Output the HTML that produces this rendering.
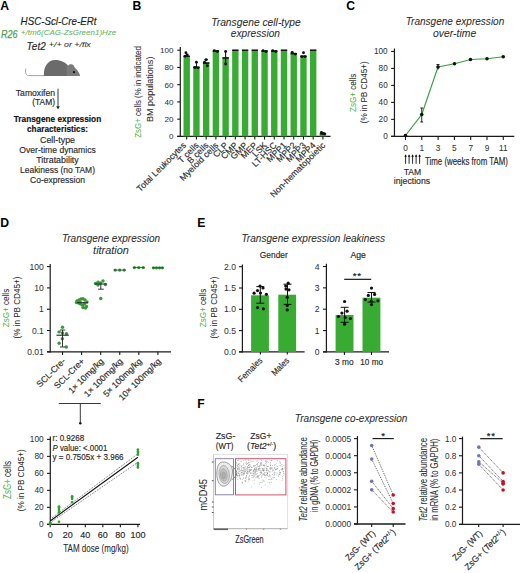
<!DOCTYPE html>
<html><head><meta charset="utf-8"><style>
html,body{margin:0;padding:0;background:#fff;}
svg{display:block;}
text{font-family:"Liberation Sans",sans-serif;}
</style></head><body>
<svg width="520" height="573" viewBox="0 0 520 573">
<rect width="520" height="573" fill="#fff"/>
<text  x="0.30" y="10.40" font-size="12.2" font-weight="bold">A</text>
<text  x="132.60" y="10.30" font-size="12.2" font-weight="bold">B</text>
<text  x="346.20" y="10.40" font-size="12.2" font-weight="bold">C</text>
<text  x="0.30" y="226.90" font-size="12.2" font-weight="bold">D</text>
<text  x="197.20" y="226.90" font-size="12.2" font-weight="bold">E</text>
<text  x="197.20" y="407.60" font-size="12.2" font-weight="bold">F</text>
<text stroke="#1e1e1e" stroke-width="0.16" x="20.60" y="25.30" font-size="10.1" fill="#1e1e1e" font-style="italic" textLength="75.80" lengthAdjust="spacingAndGlyphs">HSC-Scl-Cre-ERt</text>
<text stroke="#4f9f4f" stroke-width="0.25" x="0.90" y="37.60" font-size="11.0" fill="#4f9f4f" font-style="italic" textLength="16.60" lengthAdjust="spacingAndGlyphs">R26</text>
<text stroke="#5cb55c" stroke-width="0.05" x="20.80" y="34.70" font-size="8.0" fill="#5cb55c" font-style="italic" textLength="95.50" lengthAdjust="spacingAndGlyphs">+/tm6(CAG-ZsGreen1)Hze</text>
<text stroke="#2a2a2a" stroke-width="0.16" x="26.60" y="50.00" font-size="10.6" fill="#2a2a2a" font-style="italic" textLength="19.20" lengthAdjust="spacingAndGlyphs">Tet2</text>
<text stroke="#2a2a2a" stroke-width="0.05" x="48.80" y="46.50" font-size="7.6" fill="#2a2a2a" font-style="italic" textLength="42.00" lengthAdjust="spacingAndGlyphs">+/+ or +/flx</text>
<path d="M25.8,68.5 C25.2,72 25.6,75.5 28.5,75.6 L45,75.6" fill="none" stroke="#999" stroke-width="0.9"/>
<path d="M43.9,75.9 C43.3,66 48.5,60 55,60 C61,60 65.5,62.3 68.8,66.5 C70.2,68.5 70.6,72 70.6,75.9 Z" fill="#6b6b6b"/>
<path d="M66.8,65.6 L68.6,65.4 C69,64.6 70,64.1 71.2,64.3 C72.8,64.5 74,65.4 74.4,67 C74.8,67.6 75.2,68.1 75.6,68.6 C77.8,70.6 79.6,73.2 80.1,75.9 L66.8,75.9 Z" fill="#7a7a7a"/>
<circle cx="74.00" cy="72.20" r="1.1" fill="#111"/>
<text stroke="#2a2a2a" stroke-width="0.16" x="55.00" y="95.50" font-size="8.7" text-anchor="end" fill="#2a2a2a" textLength="39.20" lengthAdjust="spacingAndGlyphs">Tamoxifen</text>
<text stroke="#2a2a2a" stroke-width="0.16" x="55.00" y="105.00" font-size="8.7" text-anchor="end" fill="#2a2a2a" textLength="22.80" lengthAdjust="spacingAndGlyphs">(TAM)</text>
<line x1="58.00" y1="88.70" x2="58.00" y2="108.00" stroke="#222" stroke-width="0.9" />
<path d="M56.2,106.3 L58,109.6 L59.8,106.3 Z" fill="#222"/>
<text stroke="#111" stroke-width="0.16" x="57.50" y="122.00" font-size="9.0" text-anchor="middle" fill="#111" font-weight="bold" textLength="87.50" lengthAdjust="spacingAndGlyphs">Transgene expression</text>
<text stroke="#111" stroke-width="0.16" x="57.50" y="132.00" font-size="9.0" text-anchor="middle" fill="#111" font-weight="bold" textLength="61.00" lengthAdjust="spacingAndGlyphs">characteristics:</text>
<text stroke="#2a2a2a" stroke-width="0.16" x="57.50" y="142.50" font-size="8.8" text-anchor="middle" fill="#2a2a2a" textLength="35.00" lengthAdjust="spacingAndGlyphs">Cell-type</text>
<text stroke="#2a2a2a" stroke-width="0.16" x="57.50" y="152.50" font-size="8.8" text-anchor="middle" fill="#2a2a2a" textLength="76.50" lengthAdjust="spacingAndGlyphs">Over-time dynamics</text>
<text stroke="#2a2a2a" stroke-width="0.16" x="57.50" y="162.50" font-size="8.8" text-anchor="middle" fill="#2a2a2a" textLength="42.50" lengthAdjust="spacingAndGlyphs">Titratability</text>
<text stroke="#2a2a2a" stroke-width="0.16" x="57.50" y="173.00" font-size="8.8" text-anchor="middle" fill="#2a2a2a" textLength="75.00" lengthAdjust="spacingAndGlyphs">Leakiness (no TAM)</text>
<text stroke="#2a2a2a" stroke-width="0.16" x="57.50" y="183.00" font-size="8.8" text-anchor="middle" fill="#2a2a2a" textLength="55.00" lengthAdjust="spacingAndGlyphs">Co-expression</text>
<text stroke="#2e2e2e" stroke-width="0.06" x="256.00" y="25.80" font-size="10" text-anchor="middle" fill="#2e2e2e" font-style="italic" textLength="89.60" lengthAdjust="spacingAndGlyphs">Transgene cell-type</text>
<text stroke="#2e2e2e" stroke-width="0.06" x="255.40" y="37.20" font-size="10" text-anchor="middle" fill="#2e2e2e" font-style="italic" textLength="49.20" lengthAdjust="spacingAndGlyphs">expression</text>
<line x1="180.30" y1="47.10" x2="180.30" y2="137.00" stroke="#1a1a1a" stroke-width="1.2" />
<line x1="177.20" y1="136.40" x2="330.50" y2="136.40" stroke="#1a1a1a" stroke-width="1.3" />
<line x1="177.20" y1="136.40" x2="180.30" y2="136.40" stroke="#1a1a1a" stroke-width="1.1" />
<text stroke="#333" stroke-width="0.04" x="173.60" y="139.24" font-size="8.1" text-anchor="end" fill="#333">0</text>
<line x1="177.20" y1="119.16" x2="180.30" y2="119.16" stroke="#1a1a1a" stroke-width="1.1" />
<text stroke="#333" stroke-width="0.04" x="173.60" y="122.00" font-size="8.1" text-anchor="end" fill="#333">20</text>
<line x1="177.20" y1="101.92" x2="180.30" y2="101.92" stroke="#1a1a1a" stroke-width="1.1" />
<text stroke="#333" stroke-width="0.04" x="173.60" y="104.76" font-size="8.1" text-anchor="end" fill="#333">40</text>
<line x1="177.20" y1="84.68" x2="180.30" y2="84.68" stroke="#1a1a1a" stroke-width="1.1" />
<text stroke="#333" stroke-width="0.04" x="173.60" y="87.52" font-size="8.1" text-anchor="end" fill="#333">60</text>
<line x1="177.20" y1="67.44" x2="180.30" y2="67.44" stroke="#1a1a1a" stroke-width="1.1" />
<text stroke="#333" stroke-width="0.04" x="173.60" y="70.28" font-size="8.1" text-anchor="end" fill="#333">80</text>
<line x1="177.20" y1="50.20" x2="180.30" y2="50.20" stroke="#1a1a1a" stroke-width="1.1" />
<text stroke="#333" stroke-width="0.04" x="173.60" y="53.04" font-size="8.1" text-anchor="end" fill="#333">100</text>
<rect x="183.50" y="56.23" width="6.40" height="80.17" fill="#38ab32" />
<line x1="186.70" y1="136.40" x2="186.70" y2="139.60" stroke="#1a1a1a" stroke-width="1.1" />
<text stroke="#2a2a2a" stroke-width="0.16" x="186.70" y="145.80" font-size="8.8" text-anchor="end" fill="#2a2a2a" transform="rotate(-45 186.70 145.80)">Total Leukocytes</text>
<rect x="193.23" y="66.58" width="6.40" height="69.82" fill="#38ab32" />
<line x1="196.43" y1="136.40" x2="196.43" y2="139.60" stroke="#1a1a1a" stroke-width="1.1" />
<text stroke="#2a2a2a" stroke-width="0.16" x="199.43" y="145.80" font-size="8.8" text-anchor="end" fill="#2a2a2a" transform="rotate(-45 199.43 145.80)">T cells</text>
<rect x="202.96" y="62.27" width="6.40" height="74.13" fill="#38ab32" />
<line x1="206.16" y1="136.40" x2="206.16" y2="139.60" stroke="#1a1a1a" stroke-width="1.1" />
<text stroke="#2a2a2a" stroke-width="0.16" x="209.16" y="145.80" font-size="8.8" text-anchor="end" fill="#2a2a2a" transform="rotate(-45 209.16 145.80)">B cells</text>
<rect x="212.69" y="51.06" width="6.40" height="85.34" fill="#38ab32" />
<line x1="215.89" y1="136.40" x2="215.89" y2="139.60" stroke="#1a1a1a" stroke-width="1.1" />
<text stroke="#2a2a2a" stroke-width="0.16" x="218.89" y="145.80" font-size="8.8" text-anchor="end" fill="#2a2a2a" transform="rotate(-45 218.89 145.80)">Myeloid cells</text>
<rect x="222.42" y="57.10" width="6.40" height="79.30" fill="#38ab32" />
<line x1="225.62" y1="136.40" x2="225.62" y2="139.60" stroke="#1a1a1a" stroke-width="1.1" />
<text stroke="#2a2a2a" stroke-width="0.16" x="228.62" y="145.80" font-size="8.8" text-anchor="end" fill="#2a2a2a" transform="rotate(-45 228.62 145.80)">CLP</text>
<rect x="232.15" y="50.20" width="6.40" height="86.20" fill="#38ab32" />
<line x1="235.35" y1="136.40" x2="235.35" y2="139.60" stroke="#1a1a1a" stroke-width="1.1" />
<text stroke="#2a2a2a" stroke-width="0.16" x="238.35" y="145.80" font-size="8.8" text-anchor="end" fill="#2a2a2a" transform="rotate(-45 238.35 145.80)">CMP</text>
<rect x="241.88" y="50.20" width="6.40" height="86.20" fill="#38ab32" />
<line x1="245.08" y1="136.40" x2="245.08" y2="139.60" stroke="#1a1a1a" stroke-width="1.1" />
<text stroke="#2a2a2a" stroke-width="0.16" x="248.08" y="145.80" font-size="8.8" text-anchor="end" fill="#2a2a2a" transform="rotate(-45 248.08 145.80)">GMP</text>
<rect x="251.61" y="50.20" width="6.40" height="86.20" fill="#38ab32" />
<line x1="254.81" y1="136.40" x2="254.81" y2="139.60" stroke="#1a1a1a" stroke-width="1.1" />
<text stroke="#2a2a2a" stroke-width="0.16" x="257.81" y="145.80" font-size="8.8" text-anchor="end" fill="#2a2a2a" transform="rotate(-45 257.81 145.80)">MEP</text>
<rect x="261.34" y="51.06" width="6.40" height="85.34" fill="#38ab32" />
<line x1="264.54" y1="136.40" x2="264.54" y2="139.60" stroke="#1a1a1a" stroke-width="1.1" />
<text stroke="#2a2a2a" stroke-width="0.16" x="267.54" y="145.80" font-size="8.8" text-anchor="end" fill="#2a2a2a" transform="rotate(-45 267.54 145.80)">LSK</text>
<rect x="271.07" y="51.06" width="6.40" height="85.34" fill="#38ab32" />
<line x1="274.27" y1="136.40" x2="274.27" y2="139.60" stroke="#1a1a1a" stroke-width="1.1" />
<text stroke="#2a2a2a" stroke-width="0.16" x="277.27" y="145.80" font-size="8.8" text-anchor="end" fill="#2a2a2a" transform="rotate(-45 277.27 145.80)">LT-HSC</text>
<rect x="280.80" y="50.20" width="6.40" height="86.20" fill="#38ab32" />
<line x1="284.00" y1="136.40" x2="284.00" y2="139.60" stroke="#1a1a1a" stroke-width="1.1" />
<text stroke="#2a2a2a" stroke-width="0.16" x="287.00" y="145.80" font-size="8.8" text-anchor="end" fill="#2a2a2a" transform="rotate(-45 287.00 145.80)">MPP1</text>
<rect x="290.53" y="53.65" width="6.40" height="82.75" fill="#38ab32" />
<line x1="293.73" y1="136.40" x2="293.73" y2="139.60" stroke="#1a1a1a" stroke-width="1.1" />
<text stroke="#2a2a2a" stroke-width="0.16" x="296.73" y="145.80" font-size="8.8" text-anchor="end" fill="#2a2a2a" transform="rotate(-45 296.73 145.80)">MPP2</text>
<rect x="300.26" y="56.23" width="6.40" height="80.17" fill="#38ab32" />
<line x1="303.46" y1="136.40" x2="303.46" y2="139.60" stroke="#1a1a1a" stroke-width="1.1" />
<text stroke="#2a2a2a" stroke-width="0.16" x="306.46" y="145.80" font-size="8.8" text-anchor="end" fill="#2a2a2a" transform="rotate(-45 306.46 145.80)">MPP3</text>
<rect x="309.99" y="50.20" width="6.40" height="86.20" fill="#38ab32" />
<line x1="313.19" y1="136.40" x2="313.19" y2="139.60" stroke="#1a1a1a" stroke-width="1.1" />
<text stroke="#2a2a2a" stroke-width="0.16" x="316.19" y="145.80" font-size="8.8" text-anchor="end" fill="#2a2a2a" transform="rotate(-45 316.19 145.80)">MPP4</text>
<rect x="319.72" y="133.81" width="6.40" height="2.59" fill="#38ab32" />
<line x1="322.92" y1="136.40" x2="322.92" y2="139.60" stroke="#1a1a1a" stroke-width="1.1" />
<text stroke="#2a2a2a" stroke-width="0.16" x="325.92" y="145.80" font-size="8.8" text-anchor="end" fill="#2a2a2a" transform="rotate(-45 325.92 145.80)">Non-hematopoietic</text>
<rect x="183.50" y="55.48" width="6.40" height="1.50" fill="#111" />
<rect x="193.23" y="66.69" width="6.40" height="1.50" fill="#111" />
<rect x="202.96" y="62.38" width="6.40" height="1.50" fill="#111" />
<rect x="212.69" y="50.31" width="6.40" height="1.50" fill="#111" />
<rect x="222.42" y="57.21" width="6.40" height="1.50" fill="#111" />
<rect x="232.15" y="49.45" width="6.40" height="1.50" fill="#111" />
<rect x="241.88" y="49.45" width="6.40" height="1.50" fill="#111" />
<rect x="251.61" y="49.45" width="6.40" height="1.50" fill="#111" />
<rect x="261.34" y="50.31" width="6.40" height="1.50" fill="#111" />
<rect x="271.07" y="50.31" width="6.40" height="1.50" fill="#111" />
<rect x="280.80" y="49.45" width="6.40" height="1.50" fill="#111" />
<rect x="290.53" y="52.90" width="6.40" height="1.50" fill="#111" />
<rect x="300.26" y="55.48" width="6.40" height="1.50" fill="#111" />
<rect x="309.99" y="49.45" width="6.40" height="1.50" fill="#111" />
<rect x="319.72" y="133.06" width="6.40" height="1.50" fill="#111" />
<circle cx="185.90" cy="52.79" r="1.45" fill="#111"/>
<circle cx="187.30" cy="54.94" r="1.45" fill="#111"/>
<circle cx="185.20" cy="56.23" r="1.45" fill="#111"/>
<circle cx="196.43" cy="62.27" r="1.45" fill="#111"/>
<circle cx="194.93" cy="67.44" r="1.45" fill="#111"/>
<circle cx="197.93" cy="67.87" r="1.45" fill="#111"/>
<circle cx="206.16" cy="59.68" r="1.45" fill="#111"/>
<circle cx="204.56" cy="62.27" r="1.45" fill="#111"/>
<circle cx="207.36" cy="65.72" r="1.45" fill="#111"/>
<circle cx="214.39" cy="50.63" r="1.45" fill="#111"/>
<circle cx="217.39" cy="51.49" r="1.45" fill="#111"/>
<circle cx="225.62" cy="51.49" r="1.45" fill="#111"/>
<circle cx="225.62" cy="63.99" r="1.45" fill="#111"/>
<circle cx="263.04" cy="50.63" r="1.45" fill="#111"/>
<circle cx="266.04" cy="51.49" r="1.45" fill="#111"/>
<circle cx="272.77" cy="50.63" r="1.45" fill="#111"/>
<circle cx="275.77" cy="51.49" r="1.45" fill="#111"/>
<circle cx="292.23" cy="52.36" r="1.45" fill="#111"/>
<circle cx="295.23" cy="54.08" r="1.45" fill="#111"/>
<circle cx="303.46" cy="52.79" r="1.45" fill="#111"/>
<circle cx="301.96" cy="56.67" r="1.45" fill="#111"/>
<circle cx="304.96" cy="56.67" r="1.45" fill="#111"/>
<circle cx="321.42" cy="132.52" r="1.45" fill="#111"/>
<circle cx="324.42" cy="133.81" r="1.45" fill="#111"/>
<circle cx="322.92" cy="133.38" r="1.45" fill="#111"/>
<line x1="225.62" y1="51.49" x2="225.62" y2="63.99" stroke="#111" stroke-width="1.1" />
<line x1="204.36" y1="59.68" x2="207.96" y2="59.68" stroke="#111" stroke-width="1.0" />
<line x1="196.43" y1="62.27" x2="196.43" y2="67.44" stroke="#111" stroke-width="1.0" />
<text stroke="#2a2a2a" stroke-width="0.05" x="141.40" y="91.90" font-size="9.6" text-anchor="middle" fill="#2a2a2a" textLength="91.60" lengthAdjust="spacingAndGlyphs" transform="rotate(-90 141.40 91.90)"><tspan fill="#55b455" stroke="#55b455">ZsG+</tspan> cells (% in indicated</text>
<text stroke="#2a2a2a" stroke-width="0.05" x="152.80" y="89.30" font-size="9.6" text-anchor="middle" fill="#2a2a2a" textLength="65.40" lengthAdjust="spacingAndGlyphs" transform="rotate(-90 152.80 89.30)">BM populations)</text>
<text stroke="#2e2e2e" stroke-width="0.06" x="455.00" y="25.00" font-size="10" text-anchor="middle" fill="#2e2e2e" font-style="italic" textLength="98.60" lengthAdjust="spacingAndGlyphs">Transgene expression</text>
<text stroke="#2e2e2e" stroke-width="0.06" x="454.60" y="36.60" font-size="10" text-anchor="middle" fill="#2e2e2e" font-style="italic" textLength="43.20" lengthAdjust="spacingAndGlyphs">over-time</text>
<line x1="394.45" y1="48.50" x2="394.45" y2="137.00" stroke="#1a1a1a" stroke-width="1.2" />
<line x1="391.10" y1="136.35" x2="514.30" y2="136.35" stroke="#1a1a1a" stroke-width="1.3" />
<line x1="391.10" y1="136.35" x2="394.45" y2="136.35" stroke="#1a1a1a" stroke-width="1.1" />
<text stroke="#333" stroke-width="0.04" x="387.70" y="139.22" font-size="8.2" text-anchor="end" fill="#333">0</text>
<line x1="391.10" y1="119.37" x2="394.45" y2="119.37" stroke="#1a1a1a" stroke-width="1.1" />
<text stroke="#333" stroke-width="0.04" x="387.70" y="122.24" font-size="8.2" text-anchor="end" fill="#333">20</text>
<line x1="391.10" y1="102.39" x2="394.45" y2="102.39" stroke="#1a1a1a" stroke-width="1.1" />
<text stroke="#333" stroke-width="0.04" x="387.70" y="105.26" font-size="8.2" text-anchor="end" fill="#333">40</text>
<line x1="391.10" y1="85.41" x2="394.45" y2="85.41" stroke="#1a1a1a" stroke-width="1.1" />
<text stroke="#333" stroke-width="0.04" x="387.70" y="88.28" font-size="8.2" text-anchor="end" fill="#333">60</text>
<line x1="391.10" y1="68.43" x2="394.45" y2="68.43" stroke="#1a1a1a" stroke-width="1.1" />
<text stroke="#333" stroke-width="0.04" x="387.70" y="71.30" font-size="8.2" text-anchor="end" fill="#333">80</text>
<line x1="391.10" y1="51.45" x2="394.45" y2="51.45" stroke="#1a1a1a" stroke-width="1.1" />
<text stroke="#333" stroke-width="0.04" x="387.70" y="54.32" font-size="8.2" text-anchor="end" fill="#333">100</text>
<line x1="405.50" y1="136.35" x2="405.50" y2="140.00" stroke="#1a1a1a" stroke-width="1.1" />
<text stroke="#333" stroke-width="0.04" x="405.50" y="150.50" font-size="8.3" text-anchor="middle" fill="#333">0</text>
<line x1="421.80" y1="136.35" x2="421.80" y2="140.00" stroke="#1a1a1a" stroke-width="1.1" />
<text stroke="#333" stroke-width="0.04" x="421.80" y="150.50" font-size="8.3" text-anchor="middle" fill="#333">1</text>
<line x1="438.10" y1="136.35" x2="438.10" y2="140.00" stroke="#1a1a1a" stroke-width="1.1" />
<text stroke="#333" stroke-width="0.04" x="438.10" y="150.50" font-size="8.3" text-anchor="middle" fill="#333">3</text>
<line x1="454.40" y1="136.35" x2="454.40" y2="140.00" stroke="#1a1a1a" stroke-width="1.1" />
<text stroke="#333" stroke-width="0.04" x="454.40" y="150.50" font-size="8.3" text-anchor="middle" fill="#333">5</text>
<line x1="470.70" y1="136.35" x2="470.70" y2="140.00" stroke="#1a1a1a" stroke-width="1.1" />
<text stroke="#333" stroke-width="0.04" x="470.70" y="150.50" font-size="8.3" text-anchor="middle" fill="#333">7</text>
<line x1="487.00" y1="136.35" x2="487.00" y2="140.00" stroke="#1a1a1a" stroke-width="1.1" />
<text stroke="#333" stroke-width="0.04" x="487.00" y="150.50" font-size="8.3" text-anchor="middle" fill="#333">9</text>
<line x1="503.30" y1="136.35" x2="503.30" y2="140.00" stroke="#1a1a1a" stroke-width="1.1" />
<text stroke="#333" stroke-width="0.04" x="503.30" y="150.50" font-size="8.3" text-anchor="middle" fill="#333">11</text>
<polyline points="405.5,135.5 421.75,114.5 438,67 454.5,63.75 470.5,59.5 487,58.75 503.25,56.75" fill="none" stroke="#3a9e3c" stroke-width="1.15"/>
<circle cx="405.50" cy="135.50" r="1.8" fill="#111"/>
<circle cx="421.75" cy="114.50" r="1.8" fill="#111"/>
<circle cx="438.00" cy="67.00" r="1.8" fill="#111"/>
<circle cx="454.50" cy="63.75" r="1.8" fill="#111"/>
<circle cx="470.50" cy="59.50" r="1.8" fill="#111"/>
<circle cx="487.00" cy="58.75" r="1.8" fill="#111"/>
<circle cx="503.25" cy="56.75" r="1.8" fill="#111"/>
<line x1="421.75" y1="108.00" x2="421.75" y2="122.00" stroke="#111" stroke-width="0.9" />
<line x1="420.30" y1="108.00" x2="423.20" y2="108.00" stroke="#111" stroke-width="0.9" />
<line x1="420.30" y1="122.00" x2="423.20" y2="122.00" stroke="#111" stroke-width="0.9" />
<line x1="438.00" y1="64.50" x2="438.00" y2="69.50" stroke="#111" stroke-width="0.9" />
<line x1="436.50" y1="64.50" x2="439.50" y2="64.50" stroke="#111" stroke-width="0.9" />
<text stroke="#2a2a2a" stroke-width="0.05" x="355.90" y="92.80" font-size="9.8" text-anchor="middle" fill="#2a2a2a" textLength="38.40" lengthAdjust="spacingAndGlyphs" transform="rotate(-90 355.90 92.80)"><tspan fill="#55b455" stroke="#55b455">ZsG+</tspan> cells</text>
<text stroke="#2a2a2a" stroke-width="0.05" x="366.60" y="92.30" font-size="9.3" text-anchor="middle" fill="#2a2a2a" textLength="62.00" lengthAdjust="spacingAndGlyphs" transform="rotate(-90 366.60 92.30)">(% in PB CD45+)</text>
<line x1="405.60" y1="155.50" x2="405.60" y2="163.80" stroke="#111" stroke-width="0.9" />
<path d="M404.30,156.8 L405.60,154.3 L406.90,156.8 Z" fill="#111"/>
<line x1="409.10" y1="155.50" x2="409.10" y2="163.80" stroke="#111" stroke-width="0.9" />
<path d="M407.80,156.8 L409.10,154.3 L410.40,156.8 Z" fill="#111"/>
<line x1="412.60" y1="155.50" x2="412.60" y2="163.80" stroke="#111" stroke-width="0.9" />
<path d="M411.30,156.8 L412.60,154.3 L413.90,156.8 Z" fill="#111"/>
<line x1="416.10" y1="155.50" x2="416.10" y2="163.80" stroke="#111" stroke-width="0.9" />
<path d="M414.80,156.8 L416.10,154.3 L417.40,156.8 Z" fill="#111"/>
<line x1="419.60" y1="155.50" x2="419.60" y2="163.80" stroke="#111" stroke-width="0.9" />
<path d="M418.30,156.8 L419.60,154.3 L420.90,156.8 Z" fill="#111"/>
<text stroke="#2a2a2a" stroke-width="0.16" x="425.00" y="164.60" font-size="10" fill="#2a2a2a" textLength="83.00" lengthAdjust="spacingAndGlyphs">Time (weeks from TAM)</text>
<text stroke="#2a2a2a" stroke-width="0.16" x="412.50" y="174.50" font-size="8.8" text-anchor="middle" fill="#2a2a2a" textLength="17.50" lengthAdjust="spacingAndGlyphs">TAM</text>
<text stroke="#2a2a2a" stroke-width="0.16" x="412.00" y="183.80" font-size="8.8" text-anchor="middle" fill="#2a2a2a" textLength="36.30" lengthAdjust="spacingAndGlyphs">injections</text>
<text stroke="#2e2e2e" stroke-width="0.06" x="111.00" y="241.60" font-size="10" text-anchor="middle" fill="#2e2e2e" font-style="italic" textLength="98.10" lengthAdjust="spacingAndGlyphs">Transgene expression</text>
<text stroke="#2e2e2e" stroke-width="0.06" x="111.00" y="253.90" font-size="10" text-anchor="middle" fill="#2e2e2e" font-style="italic" textLength="35.80" lengthAdjust="spacingAndGlyphs">titration</text>
<line x1="50.20" y1="264.00" x2="50.20" y2="352.40" stroke="#1a1a1a" stroke-width="1.2" />
<line x1="47.00" y1="351.80" x2="171.00" y2="351.80" stroke="#1a1a1a" stroke-width="1.3" />
<line x1="47.00" y1="266.60" x2="50.20" y2="266.60" stroke="#1a1a1a" stroke-width="1.1" />
<text stroke="#333" stroke-width="0.04" x="43.90" y="269.61" font-size="8.6" text-anchor="end" fill="#333">100</text>
<line x1="47.00" y1="287.90" x2="50.20" y2="287.90" stroke="#1a1a1a" stroke-width="1.1" />
<text stroke="#333" stroke-width="0.04" x="43.90" y="290.91" font-size="8.6" text-anchor="end" fill="#333">10</text>
<line x1="47.00" y1="309.20" x2="50.20" y2="309.20" stroke="#1a1a1a" stroke-width="1.1" />
<text stroke="#333" stroke-width="0.04" x="43.90" y="312.21" font-size="8.6" text-anchor="end" fill="#333">1</text>
<line x1="47.00" y1="330.50" x2="50.20" y2="330.50" stroke="#1a1a1a" stroke-width="1.1" />
<text stroke="#333" stroke-width="0.04" x="43.90" y="333.51" font-size="8.6" text-anchor="end" fill="#333">0.1</text>
<line x1="47.00" y1="351.80" x2="50.20" y2="351.80" stroke="#1a1a1a" stroke-width="1.1" />
<text stroke="#333" stroke-width="0.04" x="43.90" y="354.81" font-size="8.6" text-anchor="end" fill="#333">0.01</text>
<line x1="62.55" y1="351.80" x2="62.55" y2="355.00" stroke="#1a1a1a" stroke-width="1.1" />
<text stroke="#2a2a2a" stroke-width="0.16" x="66.05" y="361.80" font-size="8.7" text-anchor="end" fill="#2a2a2a" transform="rotate(-45 66.05 361.80)">SCL-Cre-</text>
<line x1="81.62" y1="351.80" x2="81.62" y2="355.00" stroke="#1a1a1a" stroke-width="1.1" />
<text stroke="#2a2a2a" stroke-width="0.16" x="85.12" y="361.80" font-size="8.7" text-anchor="end" fill="#2a2a2a" transform="rotate(-45 85.12 361.80)">SCL-Cre+</text>
<line x1="100.69" y1="351.80" x2="100.69" y2="355.00" stroke="#1a1a1a" stroke-width="1.1" />
<text stroke="#2a2a2a" stroke-width="0.16" x="104.19" y="361.80" font-size="8.7" text-anchor="end" fill="#2a2a2a" transform="rotate(-45 104.19 361.80)">1× 10mg/kg</text>
<line x1="119.76" y1="351.80" x2="119.76" y2="355.00" stroke="#1a1a1a" stroke-width="1.1" />
<text stroke="#2a2a2a" stroke-width="0.16" x="123.26" y="361.80" font-size="8.7" text-anchor="end" fill="#2a2a2a" transform="rotate(-45 123.26 361.80)">1× 100mg/kg</text>
<line x1="138.83" y1="351.80" x2="138.83" y2="355.00" stroke="#1a1a1a" stroke-width="1.1" />
<text stroke="#2a2a2a" stroke-width="0.16" x="142.33" y="361.80" font-size="8.7" text-anchor="end" fill="#2a2a2a" transform="rotate(-45 142.33 361.80)">5× 100mg/kg</text>
<line x1="157.90" y1="351.80" x2="157.90" y2="355.00" stroke="#1a1a1a" stroke-width="1.1" />
<text stroke="#2a2a2a" stroke-width="0.16" x="161.40" y="361.80" font-size="8.7" text-anchor="end" fill="#2a2a2a" transform="rotate(-45 161.40 361.80)">10× 100mg/kg</text>
<circle cx="62.50" cy="327.30" r="1.7" fill="#36993a"/>
<circle cx="59.10" cy="331.90" r="1.7" fill="#36993a"/>
<circle cx="66.50" cy="333.60" r="1.7" fill="#36993a"/>
<circle cx="62.30" cy="338.80" r="1.7" fill="#36993a"/>
<circle cx="59.10" cy="343.20" r="1.7" fill="#36993a"/>
<circle cx="66.30" cy="347.00" r="1.7" fill="#36993a"/>
<circle cx="62.50" cy="333.00" r="1.7" fill="#36993a"/>
<line x1="56.50" y1="335.20" x2="68.80" y2="335.20" stroke="#222" stroke-width="1.1" />
<line x1="62.50" y1="330.00" x2="62.50" y2="347.00" stroke="#222" stroke-width="0.9" />
<line x1="60.00" y1="330.00" x2="65.20" y2="330.00" stroke="#222" stroke-width="0.9" />
<line x1="60.00" y1="347.00" x2="65.20" y2="347.00" stroke="#222" stroke-width="0.9" />
<circle cx="77.00" cy="301.00" r="1.7" fill="#36993a"/>
<circle cx="79.00" cy="300.00" r="1.7" fill="#36993a"/>
<circle cx="81.00" cy="299.00" r="1.7" fill="#36993a"/>
<circle cx="83.00" cy="298.80" r="1.7" fill="#36993a"/>
<circle cx="85.00" cy="300.00" r="1.7" fill="#36993a"/>
<circle cx="87.00" cy="302.00" r="1.7" fill="#36993a"/>
<circle cx="78.50" cy="303.00" r="1.7" fill="#36993a"/>
<circle cx="80.50" cy="304.00" r="1.7" fill="#36993a"/>
<circle cx="82.50" cy="305.00" r="1.7" fill="#36993a"/>
<circle cx="84.50" cy="304.00" r="1.7" fill="#36993a"/>
<circle cx="86.50" cy="306.50" r="1.7" fill="#36993a"/>
<circle cx="83.00" cy="307.50" r="1.7" fill="#36993a"/>
<circle cx="80.00" cy="302.00" r="1.7" fill="#36993a"/>
<circle cx="76.50" cy="302.50" r="1.7" fill="#36993a"/>
<circle cx="85.50" cy="308.00" r="1.7" fill="#36993a"/>
<line x1="77.00" y1="302.70" x2="88.00" y2="302.70" stroke="#222" stroke-width="1" />
<circle cx="95.50" cy="283.50" r="1.7" fill="#36993a"/>
<circle cx="98.00" cy="282.30" r="1.7" fill="#36993a"/>
<circle cx="100.50" cy="283.00" r="1.7" fill="#36993a"/>
<circle cx="103.00" cy="281.00" r="1.7" fill="#36993a"/>
<circle cx="105.50" cy="284.50" r="1.7" fill="#36993a"/>
<circle cx="98.00" cy="285.00" r="1.7" fill="#36993a"/>
<circle cx="100.80" cy="298.50" r="1.7" fill="#36993a"/>
<line x1="95.00" y1="284.00" x2="106.50" y2="284.00" stroke="#222" stroke-width="1" />
<line x1="100.80" y1="284.00" x2="100.80" y2="289.20" stroke="#222" stroke-width="0.9" />
<line x1="98.00" y1="289.20" x2="103.80" y2="289.20" stroke="#222" stroke-width="0.9" />
<circle cx="115.20" cy="270.10" r="1.65" fill="#36993a"/>
<circle cx="119.70" cy="270.10" r="1.65" fill="#36993a"/>
<circle cx="124.20" cy="270.10" r="1.65" fill="#36993a"/>
<line x1="113.70" y1="270.10" x2="125.70" y2="270.10" stroke="#1d4d1d" stroke-width="0.8" />
<circle cx="134.40" cy="267.60" r="1.65" fill="#36993a"/>
<circle cx="138.80" cy="267.60" r="1.65" fill="#36993a"/>
<circle cx="143.20" cy="267.60" r="1.65" fill="#36993a"/>
<line x1="132.90" y1="267.60" x2="144.70" y2="267.60" stroke="#1d4d1d" stroke-width="0.8" />
<circle cx="153.50" cy="267.80" r="1.65" fill="#36993a"/>
<circle cx="156.50" cy="267.80" r="1.65" fill="#36993a"/>
<circle cx="159.50" cy="267.80" r="1.65" fill="#36993a"/>
<circle cx="162.30" cy="267.80" r="1.65" fill="#36993a"/>
<line x1="152.00" y1="267.80" x2="163.80" y2="267.80" stroke="#1d4d1d" stroke-width="0.8" />
<text stroke="#2a2a2a" stroke-width="0.05" x="9.10" y="308.00" font-size="9.8" text-anchor="middle" fill="#2a2a2a" textLength="38.40" lengthAdjust="spacingAndGlyphs" transform="rotate(-90 9.10 308.00)"><tspan fill="#55b455" stroke="#55b455">ZsG+</tspan> cells</text>
<text stroke="#2a2a2a" stroke-width="0.05" x="20.30" y="307.60" font-size="9.3" text-anchor="middle" fill="#2a2a2a" textLength="61.90" lengthAdjust="spacingAndGlyphs" transform="rotate(-90 20.30 307.60)">(% in PB CD45+)</text>
<line x1="58.80" y1="403.50" x2="100.80" y2="403.50" stroke="#222" stroke-width="0.9" />
<line x1="80.30" y1="403.50" x2="80.30" y2="423.00" stroke="#222" stroke-width="0.9" />
<circle cx="80.30" cy="423.20" r="1.2" fill="#111"/>
<line x1="50.30" y1="436.40" x2="50.30" y2="524.90" stroke="#1a1a1a" stroke-width="1.2" />
<line x1="47.00" y1="524.30" x2="140.00" y2="524.30" stroke="#1a1a1a" stroke-width="1.3" />
<line x1="47.00" y1="524.30" x2="50.30" y2="524.30" stroke="#1a1a1a" stroke-width="1.1" />
<text stroke="#333" stroke-width="0.04" x="43.70" y="527.20" font-size="8.3" text-anchor="end" fill="#333">0</text>
<line x1="50.20" y1="524.30" x2="50.20" y2="527.30" stroke="#1a1a1a" stroke-width="1.1" />
<text stroke="#2a2a2a" stroke-width="0.16" x="50.20" y="537.50" font-size="9" text-anchor="middle" fill="#2a2a2a">0</text>
<line x1="47.00" y1="507.32" x2="50.30" y2="507.32" stroke="#1a1a1a" stroke-width="1.1" />
<text stroke="#333" stroke-width="0.04" x="43.70" y="510.22" font-size="8.3" text-anchor="end" fill="#333">20</text>
<line x1="67.74" y1="524.30" x2="67.74" y2="527.30" stroke="#1a1a1a" stroke-width="1.1" />
<text stroke="#2a2a2a" stroke-width="0.16" x="67.74" y="537.50" font-size="9" text-anchor="middle" fill="#2a2a2a">20</text>
<line x1="47.00" y1="490.34" x2="50.30" y2="490.34" stroke="#1a1a1a" stroke-width="1.1" />
<text stroke="#333" stroke-width="0.04" x="43.70" y="493.24" font-size="8.3" text-anchor="end" fill="#333">40</text>
<line x1="85.28" y1="524.30" x2="85.28" y2="527.30" stroke="#1a1a1a" stroke-width="1.1" />
<text stroke="#2a2a2a" stroke-width="0.16" x="85.28" y="537.50" font-size="9" text-anchor="middle" fill="#2a2a2a">40</text>
<line x1="47.00" y1="473.36" x2="50.30" y2="473.36" stroke="#1a1a1a" stroke-width="1.1" />
<text stroke="#333" stroke-width="0.04" x="43.70" y="476.26" font-size="8.3" text-anchor="end" fill="#333">60</text>
<line x1="102.82" y1="524.30" x2="102.82" y2="527.30" stroke="#1a1a1a" stroke-width="1.1" />
<text stroke="#2a2a2a" stroke-width="0.16" x="102.82" y="537.50" font-size="9" text-anchor="middle" fill="#2a2a2a">60</text>
<line x1="47.00" y1="456.38" x2="50.30" y2="456.38" stroke="#1a1a1a" stroke-width="1.1" />
<text stroke="#333" stroke-width="0.04" x="43.70" y="459.28" font-size="8.3" text-anchor="end" fill="#333">80</text>
<line x1="120.36" y1="524.30" x2="120.36" y2="527.30" stroke="#1a1a1a" stroke-width="1.1" />
<text stroke="#2a2a2a" stroke-width="0.16" x="120.36" y="537.50" font-size="9" text-anchor="middle" fill="#2a2a2a">80</text>
<line x1="47.00" y1="439.40" x2="50.30" y2="439.40" stroke="#1a1a1a" stroke-width="1.1" />
<text stroke="#333" stroke-width="0.04" x="43.70" y="442.30" font-size="8.3" text-anchor="end" fill="#333">100</text>
<line x1="137.90" y1="524.30" x2="137.90" y2="527.30" stroke="#1a1a1a" stroke-width="1.1" />
<text stroke="#2a2a2a" stroke-width="0.16" x="137.90" y="537.50" font-size="9" text-anchor="middle" fill="#2a2a2a">100</text>
<text stroke="#2a2a2a" stroke-width="0.08" x="96.00" y="552.00" font-size="10.6" text-anchor="middle" fill="#2a2a2a" textLength="65.50" lengthAdjust="spacingAndGlyphs">TAM dose (mg/kg)</text>
<text stroke="#2a2a2a" stroke-width="0.16" x="52.50" y="441.20" font-size="8.3" fill="#2a2a2a" textLength="31.70" lengthAdjust="spacingAndGlyphs">r: 0.9268</text>
<text stroke="#2a2a2a" stroke-width="0.16" x="52.50" y="450.80" font-size="8.3" fill="#2a2a2a" textLength="54.80" lengthAdjust="spacingAndGlyphs"><tspan font-style="italic">P</tspan> value: &lt;.0001</text>
<text stroke="#2a2a2a" stroke-width="0.16" x="52.50" y="460.40" font-size="8.3" fill="#2a2a2a" textLength="71.10" lengthAdjust="spacingAndGlyphs">y = 0.7505x + 3.966</text>
<line x1="50.20" y1="520.93" x2="137.90" y2="457.23" stroke="#111" stroke-width="1.1" />
<path d="M50.20,519.21 L137.90,453.83" stroke="#444" stroke-width="0.8" stroke-dasharray="1,1.1" fill="none"/>
<path d="M50.20,522.60 L137.90,462.32" stroke="#444" stroke-width="0.8" stroke-dasharray="1,1.1" fill="none"/>
<circle cx="50.20" cy="523.88" r="1.3" fill="#32a032"/>
<circle cx="50.20" cy="523.45" r="1.3" fill="#32a032"/>
<circle cx="50.20" cy="523.03" r="1.3" fill="#32a032"/>
<circle cx="50.20" cy="522.60" r="1.3" fill="#32a032"/>
<circle cx="58.97" cy="512.41" r="1.3" fill="#32a032"/>
<circle cx="58.97" cy="510.72" r="1.3" fill="#32a032"/>
<circle cx="58.97" cy="509.02" r="1.3" fill="#32a032"/>
<circle cx="58.97" cy="507.32" r="1.3" fill="#32a032"/>
<circle cx="58.97" cy="506.47" r="1.3" fill="#32a032"/>
<circle cx="58.97" cy="521.75" r="1.3" fill="#32a032"/>
<circle cx="72.12" cy="502.23" r="1.3" fill="#32a032"/>
<circle cx="72.12" cy="498.83" r="1.3" fill="#32a032"/>
<circle cx="72.12" cy="497.13" r="1.3" fill="#32a032"/>
<circle cx="72.12" cy="496.28" r="1.3" fill="#32a032"/>
<circle cx="137.90" cy="454.68" r="1.3" fill="#32a032"/>
<circle cx="137.90" cy="452.98" r="1.3" fill="#32a032"/>
<circle cx="137.90" cy="451.29" r="1.3" fill="#32a032"/>
<circle cx="137.90" cy="449.59" r="1.3" fill="#32a032"/>
<circle cx="137.90" cy="467.42" r="1.3" fill="#32a032"/>
<circle cx="137.90" cy="465.72" r="1.3" fill="#32a032"/>
<circle cx="137.90" cy="464.02" r="1.3" fill="#32a032"/>
<circle cx="137.90" cy="463.17" r="1.3" fill="#32a032"/>
<text stroke="#2a2a2a" stroke-width="0.05" x="11.30" y="480.00" font-size="10.3" text-anchor="middle" fill="#2a2a2a" textLength="37.80" lengthAdjust="spacingAndGlyphs" transform="rotate(-90 11.30 480.00)"><tspan fill="#55b455" stroke="#55b455">ZsG+</tspan> cells</text>
<text stroke="#2a2a2a" stroke-width="0.05" x="23.80" y="480.20" font-size="9.8" text-anchor="middle" fill="#2a2a2a" textLength="62.00" lengthAdjust="spacingAndGlyphs" transform="rotate(-90 23.80 480.20)">(% in PB CD45+)</text>
<text stroke="#2e2e2e" stroke-width="0.06" x="313.30" y="241.70" font-size="10" text-anchor="middle" fill="#2e2e2e" font-style="italic" textLength="143.70" lengthAdjust="spacingAndGlyphs">Transgene expression leakiness</text>
<text stroke="#2a2a2a" stroke-width="0.16" x="273.80" y="258.20" font-size="8.8" text-anchor="middle" fill="#2a2a2a" textLength="28.00" lengthAdjust="spacingAndGlyphs">Gender</text>
<text stroke="#2a2a2a" stroke-width="0.16" x="358.20" y="257.80" font-size="8.8" text-anchor="middle" fill="#2a2a2a" textLength="15.50" lengthAdjust="spacingAndGlyphs">Age</text>
<line x1="242.40" y1="264.50" x2="242.40" y2="352.50" stroke="#1a1a1a" stroke-width="1.2" />
<line x1="239.00" y1="351.90" x2="304.60" y2="351.90" stroke="#1a1a1a" stroke-width="1.4" />
<line x1="239.00" y1="266.70" x2="242.40" y2="266.70" stroke="#1a1a1a" stroke-width="1.1" />
<text stroke="#333" stroke-width="0.04" x="236.00" y="269.71" font-size="8.6" text-anchor="end" fill="#333">2.0</text>
<line x1="239.00" y1="288.00" x2="242.40" y2="288.00" stroke="#1a1a1a" stroke-width="1.1" />
<text stroke="#333" stroke-width="0.04" x="236.00" y="291.01" font-size="8.6" text-anchor="end" fill="#333">1.5</text>
<line x1="239.00" y1="309.30" x2="242.40" y2="309.30" stroke="#1a1a1a" stroke-width="1.1" />
<text stroke="#333" stroke-width="0.04" x="236.00" y="312.31" font-size="8.6" text-anchor="end" fill="#333">1.0</text>
<line x1="239.00" y1="330.60" x2="242.40" y2="330.60" stroke="#1a1a1a" stroke-width="1.1" />
<text stroke="#333" stroke-width="0.04" x="236.00" y="333.61" font-size="8.6" text-anchor="end" fill="#333">0.5</text>
<line x1="239.00" y1="351.90" x2="242.40" y2="351.90" stroke="#1a1a1a" stroke-width="1.1" />
<text stroke="#333" stroke-width="0.04" x="236.00" y="354.91" font-size="8.6" text-anchor="end" fill="#333">0.0</text>
<rect x="251.10" y="295.30" width="17.80" height="56.60" fill="#38ab32" />
<rect x="278.30" y="294.70" width="17.80" height="57.20" fill="#38ab32" />
<line x1="260.30" y1="286.60" x2="260.30" y2="303.20" stroke="#111" stroke-width="1" />
<line x1="256.30" y1="286.60" x2="264.30" y2="286.60" stroke="#111" stroke-width="1" />
<line x1="256.30" y1="303.20" x2="264.30" y2="303.20" stroke="#111" stroke-width="1" />
<line x1="287.50" y1="284.20" x2="287.50" y2="304.40" stroke="#111" stroke-width="1" />
<line x1="283.50" y1="284.20" x2="291.50" y2="284.20" stroke="#111" stroke-width="1" />
<line x1="283.50" y1="304.40" x2="291.50" y2="304.40" stroke="#111" stroke-width="1" />
<circle cx="260.00" cy="286.10" r="1.6" fill="#111"/>
<circle cx="263.00" cy="288.00" r="1.6" fill="#111"/>
<circle cx="257.50" cy="290.60" r="1.6" fill="#111"/>
<circle cx="254.10" cy="293.20" r="1.6" fill="#111"/>
<circle cx="260.50" cy="293.10" r="1.6" fill="#111"/>
<circle cx="266.40" cy="294.30" r="1.6" fill="#111"/>
<circle cx="257.50" cy="307.60" r="1.6" fill="#111"/>
<circle cx="263.40" cy="308.80" r="1.6" fill="#111"/>
<circle cx="288.20" cy="283.20" r="1.6" fill="#111"/>
<circle cx="285.70" cy="286.10" r="1.6" fill="#111"/>
<circle cx="286.00" cy="289.10" r="1.6" fill="#111"/>
<circle cx="289.00" cy="289.80" r="1.6" fill="#111"/>
<circle cx="287.20" cy="297.30" r="1.6" fill="#111"/>
<circle cx="287.20" cy="305.40" r="1.6" fill="#111"/>
<circle cx="287.20" cy="309.90" r="1.6" fill="#111"/>
<line x1="260.40" y1="351.90" x2="260.40" y2="354.60" stroke="#1a1a1a" stroke-width="1.1" />
<text stroke="#2a2a2a" stroke-width="0.16" x="263.00" y="361.20" font-size="8.8" text-anchor="end" fill="#2a2a2a" textLength="30.40" lengthAdjust="spacingAndGlyphs" transform="rotate(-45 263.00 361.20)">Females</text>
<line x1="287.30" y1="351.90" x2="287.30" y2="354.60" stroke="#1a1a1a" stroke-width="1.1" />
<text stroke="#2a2a2a" stroke-width="0.16" x="289.90" y="361.20" font-size="8.8" text-anchor="end" fill="#2a2a2a" textLength="21.20" lengthAdjust="spacingAndGlyphs" transform="rotate(-45 289.90 361.20)">Males</text>
<text stroke="#2a2a2a" stroke-width="0.05" x="206.30" y="308.00" font-size="9.8" text-anchor="middle" fill="#2a2a2a" textLength="38.40" lengthAdjust="spacingAndGlyphs" transform="rotate(-90 206.30 308.00)"><tspan fill="#55b455" stroke="#55b455">ZsG+</tspan> cells</text>
<text stroke="#2a2a2a" stroke-width="0.05" x="217.40" y="307.60" font-size="9.3" text-anchor="middle" fill="#2a2a2a" textLength="61.90" lengthAdjust="spacingAndGlyphs" transform="rotate(-90 217.40 307.60)">(% in PB CD45+)</text>
<line x1="326.40" y1="263.70" x2="326.40" y2="352.50" stroke="#1a1a1a" stroke-width="1.2" />
<line x1="323.00" y1="351.90" x2="389.00" y2="351.90" stroke="#1a1a1a" stroke-width="1.4" />
<line x1="323.00" y1="351.90" x2="326.40" y2="351.90" stroke="#1a1a1a" stroke-width="1.1" />
<text stroke="#333" stroke-width="0.04" x="319.60" y="354.91" font-size="8.6" text-anchor="end" fill="#333">0</text>
<line x1="323.00" y1="330.55" x2="326.40" y2="330.55" stroke="#1a1a1a" stroke-width="1.1" />
<text stroke="#333" stroke-width="0.04" x="319.60" y="333.56" font-size="8.6" text-anchor="end" fill="#333">1</text>
<line x1="323.00" y1="309.20" x2="326.40" y2="309.20" stroke="#1a1a1a" stroke-width="1.1" />
<text stroke="#333" stroke-width="0.04" x="319.60" y="312.21" font-size="8.6" text-anchor="end" fill="#333">2</text>
<line x1="323.00" y1="287.85" x2="326.40" y2="287.85" stroke="#1a1a1a" stroke-width="1.1" />
<text stroke="#333" stroke-width="0.04" x="319.60" y="290.86" font-size="8.6" text-anchor="end" fill="#333">3</text>
<line x1="323.00" y1="266.50" x2="326.40" y2="266.50" stroke="#1a1a1a" stroke-width="1.1" />
<text stroke="#333" stroke-width="0.04" x="319.60" y="269.51" font-size="8.6" text-anchor="end" fill="#333">4</text>
<rect x="335.60" y="315.00" width="17.90" height="36.90" fill="#38ab32" />
<rect x="362.50" y="297.70" width="17.90" height="54.20" fill="#38ab32" />
<line x1="344.60" y1="307.30" x2="344.60" y2="322.30" stroke="#111" stroke-width="1" />
<line x1="340.60" y1="307.30" x2="348.60" y2="307.30" stroke="#111" stroke-width="1" />
<line x1="340.60" y1="322.30" x2="348.60" y2="322.30" stroke="#111" stroke-width="1" />
<line x1="371.50" y1="292.50" x2="371.50" y2="302.10" stroke="#111" stroke-width="1" />
<line x1="367.50" y1="292.50" x2="375.50" y2="292.50" stroke="#111" stroke-width="1" />
<line x1="367.50" y1="302.10" x2="375.50" y2="302.10" stroke="#111" stroke-width="1" />
<circle cx="344.60" cy="301.50" r="1.6" fill="#111"/>
<circle cx="341.90" cy="313.10" r="1.6" fill="#111"/>
<circle cx="347.10" cy="311.20" r="1.6" fill="#111"/>
<circle cx="338.50" cy="316.50" r="1.6" fill="#111"/>
<circle cx="345.20" cy="317.50" r="1.6" fill="#111"/>
<circle cx="350.40" cy="318.50" r="1.6" fill="#111"/>
<circle cx="344.60" cy="324.20" r="1.6" fill="#111"/>
<circle cx="371.50" cy="288.10" r="1.6" fill="#111"/>
<circle cx="368.30" cy="295.40" r="1.6" fill="#111"/>
<circle cx="374.60" cy="294.40" r="1.6" fill="#111"/>
<circle cx="365.40" cy="299.60" r="1.6" fill="#111"/>
<circle cx="377.90" cy="300.80" r="1.6" fill="#111"/>
<circle cx="371.20" cy="301.20" r="1.6" fill="#111"/>
<circle cx="371.50" cy="304.60" r="1.6" fill="#111"/>
<line x1="344.20" y1="279.30" x2="371.20" y2="279.30" stroke="#000" stroke-width="1.1" />
<text stroke="#111" stroke-width="0.16" x="357.20" y="279.00" font-size="9.8" text-anchor="middle" fill="#111" letter-spacing="0.7">**</text>
<line x1="344.40" y1="351.90" x2="344.40" y2="355.00" stroke="#1a1a1a" stroke-width="1.1" />
<line x1="371.50" y1="351.90" x2="371.50" y2="355.00" stroke="#1a1a1a" stroke-width="1.1" />
<text stroke="#2a2a2a" stroke-width="0.16" x="344.30" y="365.40" font-size="8.8" text-anchor="middle" fill="#2a2a2a" textLength="18.50" lengthAdjust="spacingAndGlyphs">3 mo</text>
<text stroke="#2a2a2a" stroke-width="0.16" x="371.70" y="365.40" font-size="8.8" text-anchor="middle" fill="#2a2a2a" textLength="22.80" lengthAdjust="spacingAndGlyphs">10 mo</text>
<text stroke="#2e2e2e" stroke-width="0.06" x="351.10" y="422.30" font-size="10" text-anchor="middle" fill="#2e2e2e" font-style="italic" textLength="112.50" lengthAdjust="spacingAndGlyphs">Transgene co-expression</text>
<text stroke="#2a2a2a" stroke-width="0.16" x="225.50" y="438.70" font-size="8.8" text-anchor="middle" fill="#2a2a2a" textLength="19.70" lengthAdjust="spacingAndGlyphs">ZsG-</text>
<text stroke="#2a2a2a" stroke-width="0.16" x="224.60" y="448.50" font-size="8.8" text-anchor="middle" fill="#2a2a2a" textLength="17.60" lengthAdjust="spacingAndGlyphs">(WT)</text>
<text stroke="#2a2a2a" stroke-width="0.16" x="260.90" y="438.70" font-size="8.8" text-anchor="middle" fill="#2a2a2a" textLength="21.10" lengthAdjust="spacingAndGlyphs">ZsG+</text>
<text stroke="#2a2a2a" stroke-width="0.16" x="247.00" y="448.50" font-size="8.8" fill="#2a2a2a">(<tspan font-style="italic">Tet2</tspan><tspan font-size="5.5" dy="-3">+/-</tspan><tspan dy="3">)</tspan></text>
<line x1="213.60" y1="454.40" x2="287.60" y2="454.40" stroke="#c8c8c8" stroke-width="0.6" />
<line x1="287.60" y1="454.40" x2="287.60" y2="528.70" stroke="#c8c8c8" stroke-width="0.6" />
<line x1="213.60" y1="454.40" x2="213.60" y2="528.70" stroke="#a0a0a0" stroke-width="0.6" />
<line x1="213.30" y1="528.70" x2="287.60" y2="528.70" stroke="#8a8a8a" stroke-width="0.7" />
<line x1="211.80" y1="462.00" x2="213.60" y2="462.00" stroke="#333" stroke-width="0.8" />
<line x1="211.80" y1="480.70" x2="213.60" y2="480.70" stroke="#333" stroke-width="0.8" />
<line x1="211.80" y1="502.00" x2="213.60" y2="502.00" stroke="#333" stroke-width="0.8" />
<line x1="211.80" y1="507.00" x2="213.60" y2="507.00" stroke="#333" stroke-width="0.8" />
<line x1="211.80" y1="512.50" x2="213.60" y2="512.50" stroke="#333" stroke-width="0.8" />
<line x1="213.60" y1="529.20" x2="228.00" y2="529.20" stroke="#444" stroke-width="1.0" />
<line x1="215.00" y1="528.70" x2="215.00" y2="530.20" stroke="#333" stroke-width="0.7" />
<line x1="217.00" y1="528.70" x2="217.00" y2="530.20" stroke="#333" stroke-width="0.7" />
<line x1="219.00" y1="528.70" x2="219.00" y2="530.20" stroke="#333" stroke-width="0.7" />
<line x1="221.00" y1="528.70" x2="221.00" y2="530.20" stroke="#333" stroke-width="0.7" />
<line x1="223.00" y1="528.70" x2="223.00" y2="530.20" stroke="#333" stroke-width="0.7" />
<line x1="225.00" y1="528.70" x2="225.00" y2="530.20" stroke="#333" stroke-width="0.7" />
<line x1="227.00" y1="528.70" x2="227.00" y2="530.20" stroke="#333" stroke-width="0.7" />
<line x1="246.50" y1="528.70" x2="246.50" y2="530.00" stroke="#555" stroke-width="0.6" />
<line x1="263.80" y1="528.70" x2="263.80" y2="530.00" stroke="#555" stroke-width="0.6" />
<line x1="280.30" y1="528.70" x2="280.30" y2="530.00" stroke="#555" stroke-width="0.6" />
<circle cx="252.2" cy="475.5" r="0.42" fill="#6a6a6a" fill-opacity="0.8"/>
<circle cx="240.0" cy="477.7" r="0.42" fill="#6a6a6a" fill-opacity="0.8"/>
<circle cx="262.5" cy="468.5" r="0.42" fill="#6a6a6a" fill-opacity="0.8"/>
<circle cx="261.1" cy="471.7" r="0.42" fill="#6a6a6a" fill-opacity="0.8"/>
<circle cx="238.3" cy="467.7" r="0.42" fill="#6a6a6a" fill-opacity="0.8"/>
<circle cx="240.9" cy="471.0" r="0.42" fill="#6a6a6a" fill-opacity="0.8"/>
<circle cx="257.1" cy="471.6" r="0.42" fill="#6a6a6a" fill-opacity="0.8"/>
<circle cx="247.3" cy="467.0" r="0.42" fill="#6a6a6a" fill-opacity="0.8"/>
<circle cx="266.9" cy="478.1" r="0.42" fill="#6a6a6a" fill-opacity="0.8"/>
<circle cx="255.7" cy="467.2" r="0.42" fill="#6a6a6a" fill-opacity="0.8"/>
<circle cx="243.5" cy="473.7" r="0.42" fill="#6a6a6a" fill-opacity="0.8"/>
<circle cx="242.2" cy="465.7" r="0.42" fill="#6a6a6a" fill-opacity="0.8"/>
<circle cx="245.3" cy="481.2" r="0.42" fill="#6a6a6a" fill-opacity="0.8"/>
<circle cx="264.7" cy="466.0" r="0.42" fill="#6a6a6a" fill-opacity="0.8"/>
<circle cx="263.1" cy="465.2" r="0.42" fill="#6a6a6a" fill-opacity="0.8"/>
<circle cx="239.5" cy="474.1" r="0.42" fill="#6a6a6a" fill-opacity="0.8"/>
<circle cx="269.5" cy="471.6" r="0.42" fill="#6a6a6a" fill-opacity="0.8"/>
<circle cx="257.2" cy="466.6" r="0.42" fill="#6a6a6a" fill-opacity="0.8"/>
<circle cx="258.5" cy="477.9" r="0.42" fill="#6a6a6a" fill-opacity="0.8"/>
<circle cx="251.0" cy="472.8" r="0.42" fill="#6a6a6a" fill-opacity="0.8"/>
<circle cx="248.3" cy="460.3" r="0.42" fill="#6a6a6a" fill-opacity="0.8"/>
<circle cx="271.9" cy="467.9" r="0.42" fill="#6a6a6a" fill-opacity="0.8"/>
<circle cx="250.5" cy="473.2" r="0.42" fill="#6a6a6a" fill-opacity="0.8"/>
<circle cx="256.8" cy="469.6" r="0.42" fill="#6a6a6a" fill-opacity="0.8"/>
<circle cx="268.9" cy="476.1" r="0.42" fill="#6a6a6a" fill-opacity="0.8"/>
<circle cx="270.2" cy="464.1" r="0.42" fill="#6a6a6a" fill-opacity="0.8"/>
<circle cx="265.3" cy="463.7" r="0.42" fill="#6a6a6a" fill-opacity="0.8"/>
<circle cx="277.2" cy="466.5" r="0.42" fill="#6a6a6a" fill-opacity="0.8"/>
<circle cx="259.5" cy="468.8" r="0.42" fill="#6a6a6a" fill-opacity="0.8"/>
<circle cx="270.5" cy="468.0" r="0.42" fill="#6a6a6a" fill-opacity="0.8"/>
<circle cx="267.9" cy="482.1" r="0.42" fill="#6a6a6a" fill-opacity="0.8"/>
<circle cx="250.3" cy="469.5" r="0.42" fill="#6a6a6a" fill-opacity="0.8"/>
<circle cx="255.2" cy="469.3" r="0.42" fill="#6a6a6a" fill-opacity="0.8"/>
<circle cx="258.9" cy="468.8" r="0.42" fill="#6a6a6a" fill-opacity="0.8"/>
<circle cx="244.7" cy="471.7" r="0.42" fill="#6a6a6a" fill-opacity="0.8"/>
<circle cx="248.5" cy="459.8" r="0.42" fill="#6a6a6a" fill-opacity="0.8"/>
<circle cx="240.4" cy="478.3" r="0.42" fill="#6a6a6a" fill-opacity="0.8"/>
<circle cx="276.2" cy="465.9" r="0.42" fill="#6a6a6a" fill-opacity="0.8"/>
<circle cx="250.0" cy="464.7" r="0.42" fill="#6a6a6a" fill-opacity="0.8"/>
<circle cx="279.4" cy="473.1" r="0.42" fill="#6a6a6a" fill-opacity="0.8"/>
<circle cx="243.8" cy="472.1" r="0.42" fill="#6a6a6a" fill-opacity="0.8"/>
<circle cx="247.8" cy="474.2" r="0.42" fill="#6a6a6a" fill-opacity="0.8"/>
<circle cx="260.0" cy="465.7" r="0.42" fill="#6a6a6a" fill-opacity="0.8"/>
<circle cx="236.7" cy="467.3" r="0.42" fill="#6a6a6a" fill-opacity="0.8"/>
<circle cx="256.8" cy="464.3" r="0.42" fill="#6a6a6a" fill-opacity="0.8"/>
<circle cx="282.7" cy="476.2" r="0.42" fill="#6a6a6a" fill-opacity="0.8"/>
<circle cx="261.5" cy="462.8" r="0.42" fill="#6a6a6a" fill-opacity="0.8"/>
<circle cx="239.1" cy="463.4" r="0.42" fill="#6a6a6a" fill-opacity="0.8"/>
<circle cx="280.1" cy="472.5" r="0.42" fill="#6a6a6a" fill-opacity="0.8"/>
<circle cx="255.9" cy="477.3" r="0.42" fill="#6a6a6a" fill-opacity="0.8"/>
<circle cx="239.5" cy="475.6" r="0.42" fill="#6a6a6a" fill-opacity="0.8"/>
<circle cx="239.8" cy="471.0" r="0.42" fill="#6a6a6a" fill-opacity="0.8"/>
<circle cx="253.0" cy="473.7" r="0.42" fill="#6a6a6a" fill-opacity="0.8"/>
<circle cx="239.0" cy="473.7" r="0.42" fill="#6a6a6a" fill-opacity="0.8"/>
<circle cx="241.4" cy="470.0" r="0.42" fill="#6a6a6a" fill-opacity="0.8"/>
<circle cx="254.1" cy="483.1" r="0.42" fill="#6a6a6a" fill-opacity="0.8"/>
<circle cx="266.3" cy="472.1" r="0.42" fill="#6a6a6a" fill-opacity="0.8"/>
<circle cx="243.7" cy="469.9" r="0.42" fill="#6a6a6a" fill-opacity="0.8"/>
<circle cx="254.2" cy="476.0" r="0.42" fill="#6a6a6a" fill-opacity="0.8"/>
<circle cx="242.5" cy="481.9" r="0.42" fill="#6a6a6a" fill-opacity="0.8"/>
<circle cx="260.0" cy="472.6" r="0.42" fill="#6a6a6a" fill-opacity="0.8"/>
<circle cx="253.1" cy="471.6" r="0.42" fill="#6a6a6a" fill-opacity="0.8"/>
<circle cx="249.3" cy="471.8" r="0.42" fill="#6a6a6a" fill-opacity="0.8"/>
<circle cx="237.6" cy="466.6" r="0.42" fill="#6a6a6a" fill-opacity="0.8"/>
<circle cx="282.6" cy="466.4" r="0.42" fill="#6a6a6a" fill-opacity="0.8"/>
<circle cx="237.8" cy="469.4" r="0.42" fill="#6a6a6a" fill-opacity="0.8"/>
<circle cx="262.1" cy="482.8" r="0.42" fill="#6a6a6a" fill-opacity="0.8"/>
<circle cx="270.3" cy="468.3" r="0.42" fill="#6a6a6a" fill-opacity="0.8"/>
<circle cx="249.2" cy="467.4" r="0.42" fill="#6a6a6a" fill-opacity="0.8"/>
<circle cx="273.9" cy="472.9" r="0.42" fill="#6a6a6a" fill-opacity="0.8"/>
<circle cx="274.3" cy="467.8" r="0.42" fill="#6a6a6a" fill-opacity="0.8"/>
<circle cx="284.3" cy="474.1" r="0.42" fill="#6a6a6a" fill-opacity="0.8"/>
<circle cx="261.6" cy="460.3" r="0.42" fill="#6a6a6a" fill-opacity="0.8"/>
<circle cx="253.7" cy="471.5" r="0.42" fill="#6a6a6a" fill-opacity="0.8"/>
<circle cx="250.1" cy="470.3" r="0.42" fill="#6a6a6a" fill-opacity="0.8"/>
<circle cx="249.1" cy="464.2" r="0.42" fill="#6a6a6a" fill-opacity="0.8"/>
<circle cx="247.2" cy="468.8" r="0.42" fill="#6a6a6a" fill-opacity="0.8"/>
<circle cx="247.5" cy="471.4" r="0.42" fill="#6a6a6a" fill-opacity="0.8"/>
<circle cx="266.8" cy="474.2" r="0.42" fill="#6a6a6a" fill-opacity="0.8"/>
<circle cx="280.2" cy="474.0" r="0.42" fill="#6a6a6a" fill-opacity="0.8"/>
<circle cx="268.5" cy="479.6" r="0.42" fill="#6a6a6a" fill-opacity="0.8"/>
<circle cx="245.2" cy="471.4" r="0.42" fill="#6a6a6a" fill-opacity="0.8"/>
<circle cx="275.3" cy="464.3" r="0.42" fill="#6a6a6a" fill-opacity="0.8"/>
<circle cx="271.7" cy="479.1" r="0.42" fill="#6a6a6a" fill-opacity="0.8"/>
<circle cx="244.7" cy="472.6" r="0.42" fill="#6a6a6a" fill-opacity="0.8"/>
<circle cx="280.4" cy="472.7" r="0.42" fill="#6a6a6a" fill-opacity="0.8"/>
<circle cx="243.6" cy="478.4" r="0.42" fill="#6a6a6a" fill-opacity="0.8"/>
<circle cx="253.5" cy="466.7" r="0.42" fill="#6a6a6a" fill-opacity="0.8"/>
<circle cx="237.2" cy="469.0" r="0.42" fill="#6a6a6a" fill-opacity="0.8"/>
<circle cx="283.6" cy="465.3" r="0.42" fill="#6a6a6a" fill-opacity="0.8"/>
<circle cx="257.5" cy="463.6" r="0.42" fill="#6a6a6a" fill-opacity="0.8"/>
<circle cx="250.7" cy="466.0" r="0.42" fill="#6a6a6a" fill-opacity="0.8"/>
<circle cx="248.2" cy="465.7" r="0.42" fill="#6a6a6a" fill-opacity="0.8"/>
<circle cx="256.8" cy="467.4" r="0.42" fill="#6a6a6a" fill-opacity="0.8"/>
<circle cx="242.9" cy="475.1" r="0.42" fill="#6a6a6a" fill-opacity="0.8"/>
<circle cx="258.7" cy="466.7" r="0.42" fill="#6a6a6a" fill-opacity="0.8"/>
<circle cx="264.8" cy="475.6" r="0.42" fill="#6a6a6a" fill-opacity="0.8"/>
<circle cx="281.0" cy="466.2" r="0.42" fill="#6a6a6a" fill-opacity="0.8"/>
<circle cx="262.3" cy="468.8" r="0.42" fill="#6a6a6a" fill-opacity="0.8"/>
<circle cx="257.8" cy="469.8" r="0.42" fill="#6a6a6a" fill-opacity="0.8"/>
<circle cx="245.4" cy="481.6" r="0.42" fill="#6a6a6a" fill-opacity="0.8"/>
<circle cx="244.9" cy="470.3" r="0.42" fill="#6a6a6a" fill-opacity="0.8"/>
<circle cx="259.5" cy="468.7" r="0.42" fill="#6a6a6a" fill-opacity="0.8"/>
<circle cx="252.3" cy="461.8" r="0.42" fill="#6a6a6a" fill-opacity="0.8"/>
<circle cx="241.6" cy="466.1" r="0.42" fill="#6a6a6a" fill-opacity="0.8"/>
<circle cx="263.7" cy="470.0" r="0.42" fill="#6a6a6a" fill-opacity="0.8"/>
<circle cx="274.0" cy="475.2" r="0.42" fill="#6a6a6a" fill-opacity="0.8"/>
<circle cx="263.7" cy="470.9" r="0.42" fill="#6a6a6a" fill-opacity="0.8"/>
<circle cx="266.2" cy="462.2" r="0.42" fill="#6a6a6a" fill-opacity="0.8"/>
<circle cx="270.1" cy="469.7" r="0.42" fill="#6a6a6a" fill-opacity="0.8"/>
<circle cx="258.4" cy="462.7" r="0.42" fill="#6a6a6a" fill-opacity="0.8"/>
<circle cx="282.2" cy="468.5" r="0.42" fill="#6a6a6a" fill-opacity="0.8"/>
<circle cx="279.0" cy="474.7" r="0.42" fill="#6a6a6a" fill-opacity="0.8"/>
<circle cx="282.2" cy="468.2" r="0.42" fill="#6a6a6a" fill-opacity="0.8"/>
<circle cx="243.2" cy="475.1" r="0.42" fill="#6a6a6a" fill-opacity="0.8"/>
<circle cx="240.0" cy="474.9" r="0.42" fill="#6a6a6a" fill-opacity="0.8"/>
<circle cx="248.2" cy="478.7" r="0.42" fill="#6a6a6a" fill-opacity="0.8"/>
<circle cx="274.5" cy="474.3" r="0.42" fill="#6a6a6a" fill-opacity="0.8"/>
<circle cx="244.0" cy="468.0" r="0.42" fill="#6a6a6a" fill-opacity="0.8"/>
<circle cx="243.4" cy="460.7" r="0.42" fill="#6a6a6a" fill-opacity="0.8"/>
<circle cx="279.3" cy="474.5" r="0.42" fill="#6a6a6a" fill-opacity="0.8"/>
<circle cx="255.8" cy="469.1" r="0.42" fill="#6a6a6a" fill-opacity="0.8"/>
<circle cx="260.1" cy="482.3" r="0.42" fill="#6a6a6a" fill-opacity="0.8"/>
<circle cx="244.3" cy="469.2" r="0.42" fill="#6a6a6a" fill-opacity="0.8"/>
<circle cx="257.4" cy="464.1" r="0.42" fill="#6a6a6a" fill-opacity="0.8"/>
<circle cx="246.0" cy="469.4" r="0.42" fill="#6a6a6a" fill-opacity="0.8"/>
<circle cx="251.9" cy="469.8" r="0.42" fill="#6a6a6a" fill-opacity="0.8"/>
<circle cx="263.4" cy="468.7" r="0.42" fill="#6a6a6a" fill-opacity="0.8"/>
<circle cx="257.9" cy="475.8" r="0.42" fill="#6a6a6a" fill-opacity="0.8"/>
<circle cx="266.8" cy="470.7" r="0.42" fill="#6a6a6a" fill-opacity="0.8"/>
<circle cx="261.3" cy="487.3" r="0.42" fill="#6a6a6a" fill-opacity="0.8"/>
<circle cx="274.7" cy="477.4" r="0.42" fill="#6a6a6a" fill-opacity="0.8"/>
<circle cx="241.6" cy="469.8" r="0.42" fill="#6a6a6a" fill-opacity="0.8"/>
<circle cx="243.7" cy="477.4" r="0.42" fill="#6a6a6a" fill-opacity="0.8"/>
<circle cx="270.5" cy="465.9" r="0.42" fill="#6a6a6a" fill-opacity="0.8"/>
<circle cx="240.8" cy="479.3" r="0.42" fill="#6a6a6a" fill-opacity="0.8"/>
<circle cx="257.1" cy="473.5" r="0.42" fill="#6a6a6a" fill-opacity="0.8"/>
<circle cx="240.0" cy="478.5" r="0.42" fill="#6a6a6a" fill-opacity="0.8"/>
<circle cx="252.9" cy="475.3" r="0.42" fill="#6a6a6a" fill-opacity="0.8"/>
<circle cx="263.3" cy="474.6" r="0.42" fill="#6a6a6a" fill-opacity="0.8"/>
<circle cx="242.8" cy="467.7" r="0.42" fill="#6a6a6a" fill-opacity="0.8"/>
<circle cx="262.1" cy="470.2" r="0.42" fill="#6a6a6a" fill-opacity="0.8"/>
<circle cx="244.3" cy="473.1" r="0.42" fill="#6a6a6a" fill-opacity="0.8"/>
<circle cx="238.9" cy="471.7" r="0.42" fill="#6a6a6a" fill-opacity="0.8"/>
<circle cx="251.3" cy="475.4" r="0.42" fill="#6a6a6a" fill-opacity="0.8"/>
<circle cx="253.3" cy="477.4" r="0.42" fill="#6a6a6a" fill-opacity="0.8"/>
<circle cx="237.4" cy="470.0" r="0.42" fill="#6a6a6a" fill-opacity="0.8"/>
<circle cx="272.1" cy="471.1" r="0.42" fill="#6a6a6a" fill-opacity="0.8"/>
<circle cx="241.7" cy="472.4" r="0.42" fill="#6a6a6a" fill-opacity="0.8"/>
<circle cx="276.2" cy="463.1" r="0.42" fill="#6a6a6a" fill-opacity="0.8"/>
<circle cx="255.6" cy="473.1" r="0.42" fill="#6a6a6a" fill-opacity="0.8"/>
<circle cx="261.1" cy="463.0" r="0.42" fill="#6a6a6a" fill-opacity="0.8"/>
<circle cx="253.4" cy="461.1" r="0.42" fill="#6a6a6a" fill-opacity="0.8"/>
<circle cx="239.1" cy="471.7" r="0.42" fill="#6a6a6a" fill-opacity="0.8"/>
<circle cx="244.4" cy="480.8" r="0.42" fill="#6a6a6a" fill-opacity="0.8"/>
<circle cx="278.7" cy="476.3" r="0.42" fill="#6a6a6a" fill-opacity="0.8"/>
<circle cx="250.2" cy="470.3" r="0.42" fill="#6a6a6a" fill-opacity="0.8"/>
<circle cx="258.8" cy="475.4" r="0.42" fill="#6a6a6a" fill-opacity="0.8"/>
<circle cx="244.1" cy="465.2" r="0.42" fill="#6a6a6a" fill-opacity="0.8"/>
<circle cx="283.1" cy="471.7" r="0.42" fill="#6a6a6a" fill-opacity="0.8"/>
<circle cx="263.0" cy="470.6" r="0.42" fill="#6a6a6a" fill-opacity="0.8"/>
<circle cx="251.5" cy="486.9" r="0.42" fill="#6a6a6a" fill-opacity="0.8"/>
<circle cx="253.8" cy="476.4" r="0.42" fill="#6a6a6a" fill-opacity="0.8"/>
<circle cx="259.5" cy="470.0" r="0.42" fill="#6a6a6a" fill-opacity="0.8"/>
<circle cx="260.9" cy="472.3" r="0.42" fill="#6a6a6a" fill-opacity="0.8"/>
<circle cx="236.7" cy="477.3" r="0.42" fill="#6a6a6a" fill-opacity="0.8"/>
<circle cx="249.3" cy="475.5" r="0.42" fill="#6a6a6a" fill-opacity="0.8"/>
<circle cx="238.5" cy="473.5" r="0.42" fill="#6a6a6a" fill-opacity="0.8"/>
<circle cx="237.6" cy="468.4" r="0.42" fill="#6a6a6a" fill-opacity="0.8"/>
<circle cx="264.9" cy="474.5" r="0.42" fill="#6a6a6a" fill-opacity="0.8"/>
<circle cx="262.2" cy="470.0" r="0.42" fill="#6a6a6a" fill-opacity="0.8"/>
<circle cx="271.2" cy="460.5" r="0.42" fill="#6a6a6a" fill-opacity="0.8"/>
<circle cx="279.1" cy="465.6" r="0.42" fill="#6a6a6a" fill-opacity="0.8"/>
<circle cx="243.7" cy="473.7" r="0.42" fill="#6a6a6a" fill-opacity="0.8"/>
<circle cx="271.6" cy="468.8" r="0.42" fill="#6a6a6a" fill-opacity="0.8"/>
<circle cx="277.0" cy="468.5" r="0.42" fill="#6a6a6a" fill-opacity="0.8"/>
<circle cx="266.9" cy="468.8" r="0.42" fill="#6a6a6a" fill-opacity="0.8"/>
<circle cx="275.5" cy="469.7" r="0.42" fill="#6a6a6a" fill-opacity="0.8"/>
<circle cx="264.8" cy="477.7" r="0.42" fill="#6a6a6a" fill-opacity="0.8"/>
<circle cx="270.1" cy="463.9" r="0.42" fill="#6a6a6a" fill-opacity="0.8"/>
<circle cx="247.7" cy="473.4" r="0.42" fill="#6a6a6a" fill-opacity="0.8"/>
<circle cx="254.0" cy="470.7" r="0.42" fill="#6a6a6a" fill-opacity="0.8"/>
<circle cx="241.6" cy="474.3" r="0.42" fill="#6a6a6a" fill-opacity="0.8"/>
<circle cx="266.9" cy="462.9" r="0.42" fill="#6a6a6a" fill-opacity="0.8"/>
<circle cx="266.9" cy="466.8" r="0.42" fill="#6a6a6a" fill-opacity="0.8"/>
<circle cx="236.7" cy="463.2" r="0.42" fill="#6a6a6a" fill-opacity="0.8"/>
<circle cx="275.2" cy="469.9" r="0.42" fill="#6a6a6a" fill-opacity="0.8"/>
<circle cx="268.5" cy="462.3" r="0.42" fill="#6a6a6a" fill-opacity="0.8"/>
<circle cx="239.7" cy="469.6" r="0.42" fill="#6a6a6a" fill-opacity="0.8"/>
<circle cx="240.1" cy="465.1" r="0.42" fill="#6a6a6a" fill-opacity="0.8"/>
<circle cx="249.4" cy="469.4" r="0.42" fill="#6a6a6a" fill-opacity="0.8"/>
<circle cx="272.4" cy="465.6" r="0.42" fill="#6a6a6a" fill-opacity="0.8"/>
<circle cx="260.5" cy="464.5" r="0.42" fill="#6a6a6a" fill-opacity="0.8"/>
<circle cx="269.7" cy="475.0" r="0.42" fill="#6a6a6a" fill-opacity="0.8"/>
<circle cx="243.7" cy="463.7" r="0.42" fill="#6a6a6a" fill-opacity="0.8"/>
<circle cx="248.8" cy="469.8" r="0.42" fill="#6a6a6a" fill-opacity="0.8"/>
<circle cx="264.0" cy="464.5" r="0.42" fill="#6a6a6a" fill-opacity="0.8"/>
<circle cx="237.1" cy="474.8" r="0.42" fill="#6a6a6a" fill-opacity="0.8"/>
<circle cx="269.1" cy="471.9" r="0.42" fill="#6a6a6a" fill-opacity="0.8"/>
<circle cx="270.1" cy="467.6" r="0.42" fill="#6a6a6a" fill-opacity="0.8"/>
<circle cx="261.6" cy="465.2" r="0.42" fill="#6a6a6a" fill-opacity="0.8"/>
<circle cx="259.0" cy="466.8" r="0.42" fill="#6a6a6a" fill-opacity="0.8"/>
<circle cx="276.3" cy="469.5" r="0.42" fill="#6a6a6a" fill-opacity="0.8"/>
<circle cx="258.3" cy="469.5" r="0.42" fill="#6a6a6a" fill-opacity="0.8"/>
<circle cx="264.7" cy="475.0" r="0.42" fill="#6a6a6a" fill-opacity="0.8"/>
<circle cx="247.7" cy="469.3" r="0.42" fill="#6a6a6a" fill-opacity="0.8"/>
<circle cx="260.3" cy="470.1" r="0.42" fill="#6a6a6a" fill-opacity="0.8"/>
<circle cx="258.4" cy="468.9" r="0.42" fill="#6a6a6a" fill-opacity="0.8"/>
<circle cx="253.2" cy="473.4" r="0.42" fill="#6a6a6a" fill-opacity="0.8"/>
<circle cx="251.8" cy="470.2" r="0.42" fill="#6a6a6a" fill-opacity="0.8"/>
<circle cx="272.9" cy="469.7" r="0.42" fill="#6a6a6a" fill-opacity="0.8"/>
<circle cx="242.3" cy="479.2" r="0.42" fill="#6a6a6a" fill-opacity="0.8"/>
<circle cx="265.1" cy="484.9" r="0.42" fill="#6a6a6a" fill-opacity="0.8"/>
<circle cx="254.0" cy="465.3" r="0.42" fill="#6a6a6a" fill-opacity="0.8"/>
<circle cx="238.8" cy="472.3" r="0.42" fill="#6a6a6a" fill-opacity="0.8"/>
<circle cx="241.4" cy="472.7" r="0.42" fill="#6a6a6a" fill-opacity="0.8"/>
<circle cx="249.4" cy="465.8" r="0.42" fill="#6a6a6a" fill-opacity="0.8"/>
<circle cx="254.6" cy="469.7" r="0.42" fill="#6a6a6a" fill-opacity="0.8"/>
<circle cx="282.9" cy="478.9" r="0.42" fill="#6a6a6a" fill-opacity="0.8"/>
<circle cx="280.8" cy="462.1" r="0.42" fill="#6a6a6a" fill-opacity="0.8"/>
<circle cx="263.1" cy="469.6" r="0.42" fill="#6a6a6a" fill-opacity="0.8"/>
<circle cx="259.4" cy="467.0" r="0.42" fill="#6a6a6a" fill-opacity="0.8"/>
<circle cx="272.3" cy="474.5" r="0.42" fill="#6a6a6a" fill-opacity="0.8"/>
<circle cx="249.1" cy="466.9" r="0.42" fill="#6a6a6a" fill-opacity="0.8"/>
<circle cx="263.5" cy="465.4" r="0.42" fill="#6a6a6a" fill-opacity="0.8"/>
<circle cx="255.6" cy="471.9" r="0.42" fill="#6a6a6a" fill-opacity="0.8"/>
<circle cx="246.6" cy="473.4" r="0.42" fill="#6a6a6a" fill-opacity="0.8"/>
<circle cx="280.4" cy="465.4" r="0.42" fill="#6a6a6a" fill-opacity="0.8"/>
<circle cx="243.3" cy="471.0" r="0.42" fill="#6a6a6a" fill-opacity="0.8"/>
<circle cx="253.1" cy="472.7" r="0.42" fill="#6a6a6a" fill-opacity="0.8"/>
<circle cx="240.9" cy="470.3" r="0.42" fill="#6a6a6a" fill-opacity="0.8"/>
<circle cx="264.1" cy="475.0" r="0.42" fill="#6a6a6a" fill-opacity="0.8"/>
<circle cx="261.9" cy="463.3" r="0.42" fill="#6a6a6a" fill-opacity="0.8"/>
<circle cx="254.8" cy="468.8" r="0.42" fill="#6a6a6a" fill-opacity="0.8"/>
<circle cx="250.0" cy="472.0" r="0.42" fill="#6a6a6a" fill-opacity="0.8"/>
<circle cx="283.4" cy="475.4" r="0.42" fill="#6a6a6a" fill-opacity="0.8"/>
<circle cx="249.6" cy="470.1" r="0.42" fill="#6a6a6a" fill-opacity="0.8"/>
<circle cx="258.1" cy="476.6" r="0.42" fill="#6a6a6a" fill-opacity="0.8"/>
<circle cx="270.9" cy="475.8" r="0.42" fill="#6a6a6a" fill-opacity="0.8"/>
<circle cx="265.0" cy="465.5" r="0.42" fill="#6a6a6a" fill-opacity="0.8"/>
<circle cx="276.5" cy="479.4" r="0.42" fill="#6a6a6a" fill-opacity="0.8"/>
<circle cx="261.8" cy="473.1" r="0.42" fill="#6a6a6a" fill-opacity="0.8"/>
<circle cx="269.6" cy="479.7" r="0.42" fill="#6a6a6a" fill-opacity="0.8"/>
<circle cx="267.9" cy="466.3" r="0.42" fill="#6a6a6a" fill-opacity="0.8"/>
<circle cx="248.7" cy="465.6" r="0.42" fill="#6a6a6a" fill-opacity="0.8"/>
<circle cx="267.4" cy="469.0" r="0.42" fill="#6a6a6a" fill-opacity="0.8"/>
<circle cx="239.9" cy="467.0" r="0.42" fill="#6a6a6a" fill-opacity="0.8"/>
<circle cx="261.9" cy="464.4" r="0.42" fill="#6a6a6a" fill-opacity="0.8"/>
<circle cx="247.3" cy="466.8" r="0.42" fill="#6a6a6a" fill-opacity="0.8"/>
<circle cx="265.7" cy="475.5" r="0.42" fill="#6a6a6a" fill-opacity="0.8"/>
<circle cx="258.8" cy="470.4" r="0.42" fill="#6a6a6a" fill-opacity="0.8"/>
<circle cx="248.5" cy="479.8" r="0.42" fill="#6a6a6a" fill-opacity="0.8"/>
<circle cx="251.4" cy="467.5" r="0.42" fill="#6a6a6a" fill-opacity="0.8"/>
<circle cx="237.6" cy="460.3" r="0.42" fill="#6a6a6a" fill-opacity="0.8"/>
<circle cx="256.9" cy="470.1" r="0.42" fill="#6a6a6a" fill-opacity="0.8"/>
<circle cx="249.0" cy="462.7" r="0.42" fill="#6a6a6a" fill-opacity="0.8"/>
<circle cx="238.2" cy="466.4" r="0.42" fill="#6a6a6a" fill-opacity="0.8"/>
<circle cx="269.6" cy="475.8" r="0.42" fill="#6a6a6a" fill-opacity="0.8"/>
<circle cx="246.1" cy="473.1" r="0.42" fill="#6a6a6a" fill-opacity="0.8"/>
<circle cx="261.0" cy="459.8" r="0.42" fill="#6a6a6a" fill-opacity="0.8"/>
<circle cx="246.5" cy="475.5" r="0.42" fill="#6a6a6a" fill-opacity="0.8"/>
<circle cx="247.2" cy="470.4" r="0.42" fill="#6a6a6a" fill-opacity="0.8"/>
<circle cx="245.6" cy="471.1" r="0.42" fill="#6a6a6a" fill-opacity="0.8"/>
<circle cx="268.8" cy="476.7" r="0.42" fill="#6a6a6a" fill-opacity="0.8"/>
<circle cx="239.0" cy="476.0" r="0.42" fill="#6a6a6a" fill-opacity="0.8"/>
<circle cx="280.1" cy="472.4" r="0.42" fill="#6a6a6a" fill-opacity="0.8"/>
<circle cx="245.5" cy="469.8" r="0.42" fill="#6a6a6a" fill-opacity="0.8"/>
<circle cx="281.9" cy="470.0" r="0.42" fill="#6a6a6a" fill-opacity="0.8"/>
<circle cx="254.9" cy="468.3" r="0.42" fill="#6a6a6a" fill-opacity="0.8"/>
<circle cx="254.6" cy="468.1" r="0.42" fill="#6a6a6a" fill-opacity="0.8"/>
<circle cx="236.6" cy="473.4" r="0.42" fill="#6a6a6a" fill-opacity="0.8"/>
<circle cx="250.1" cy="460.3" r="0.42" fill="#6a6a6a" fill-opacity="0.8"/>
<circle cx="242.5" cy="483.0" r="0.42" fill="#6a6a6a" fill-opacity="0.8"/>
<circle cx="283.3" cy="471.6" r="0.42" fill="#6a6a6a" fill-opacity="0.8"/>
<circle cx="238.9" cy="463.8" r="0.42" fill="#6a6a6a" fill-opacity="0.8"/>
<circle cx="254.2" cy="471.3" r="0.42" fill="#6a6a6a" fill-opacity="0.8"/>
<circle cx="256.4" cy="469.0" r="0.42" fill="#6a6a6a" fill-opacity="0.8"/>
<circle cx="239.5" cy="468.1" r="0.42" fill="#6a6a6a" fill-opacity="0.8"/>
<circle cx="281.1" cy="469.5" r="0.42" fill="#6a6a6a" fill-opacity="0.8"/>
<circle cx="252.9" cy="480.8" r="0.42" fill="#6a6a6a" fill-opacity="0.8"/>
<circle cx="249.7" cy="478.7" r="0.42" fill="#6a6a6a" fill-opacity="0.8"/>
<circle cx="249.2" cy="467.6" r="0.42" fill="#6a6a6a" fill-opacity="0.8"/>
<circle cx="271.3" cy="467.9" r="0.42" fill="#6a6a6a" fill-opacity="0.8"/>
<circle cx="236.7" cy="474.8" r="0.42" fill="#6a6a6a" fill-opacity="0.8"/>
<circle cx="273.1" cy="478.0" r="0.42" fill="#6a6a6a" fill-opacity="0.8"/>
<circle cx="237.7" cy="465.4" r="0.42" fill="#6a6a6a" fill-opacity="0.8"/>
<circle cx="248.7" cy="463.1" r="0.42" fill="#6a6a6a" fill-opacity="0.8"/>
<circle cx="275.4" cy="469.1" r="0.42" fill="#6a6a6a" fill-opacity="0.8"/>
<circle cx="252.4" cy="467.4" r="0.42" fill="#6a6a6a" fill-opacity="0.8"/>
<circle cx="246.1" cy="470.1" r="0.42" fill="#6a6a6a" fill-opacity="0.8"/>
<circle cx="239.6" cy="465.1" r="0.42" fill="#6a6a6a" fill-opacity="0.8"/>
<circle cx="238.1" cy="464.5" r="0.42" fill="#6a6a6a" fill-opacity="0.8"/>
<circle cx="284.0" cy="468.1" r="0.42" fill="#6a6a6a" fill-opacity="0.8"/>
<circle cx="260.7" cy="472.7" r="0.42" fill="#6a6a6a" fill-opacity="0.8"/>
<circle cx="270.9" cy="465.5" r="0.42" fill="#6a6a6a" fill-opacity="0.8"/>
<circle cx="256.7" cy="471.6" r="0.42" fill="#6a6a6a" fill-opacity="0.8"/>
<circle cx="266.6" cy="465.0" r="0.42" fill="#6a6a6a" fill-opacity="0.8"/>
<circle cx="277.6" cy="460.4" r="0.42" fill="#6a6a6a" fill-opacity="0.8"/>
<circle cx="242.4" cy="472.9" r="0.42" fill="#6a6a6a" fill-opacity="0.8"/>
<circle cx="264.0" cy="465.4" r="0.42" fill="#6a6a6a" fill-opacity="0.8"/>
<circle cx="254.6" cy="469.7" r="0.42" fill="#6a6a6a" fill-opacity="0.8"/>
<circle cx="248.5" cy="465.7" r="0.42" fill="#6a6a6a" fill-opacity="0.8"/>
<circle cx="248.4" cy="477.7" r="0.42" fill="#6a6a6a" fill-opacity="0.8"/>
<circle cx="264.5" cy="481.1" r="0.42" fill="#6a6a6a" fill-opacity="0.8"/>
<circle cx="261.1" cy="482.3" r="0.42" fill="#6a6a6a" fill-opacity="0.8"/>
<circle cx="247.7" cy="473.4" r="0.42" fill="#6a6a6a" fill-opacity="0.8"/>
<circle cx="259.5" cy="475.2" r="0.42" fill="#6a6a6a" fill-opacity="0.8"/>
<circle cx="250.7" cy="473.1" r="0.42" fill="#6a6a6a" fill-opacity="0.8"/>
<circle cx="283.7" cy="472.9" r="0.42" fill="#6a6a6a" fill-opacity="0.8"/>
<circle cx="249.1" cy="479.4" r="0.42" fill="#6a6a6a" fill-opacity="0.8"/>
<circle cx="274.2" cy="472.9" r="0.42" fill="#6a6a6a" fill-opacity="0.8"/>
<circle cx="266.6" cy="469.0" r="0.42" fill="#6a6a6a" fill-opacity="0.8"/>
<circle cx="247.1" cy="467.6" r="0.42" fill="#6a6a6a" fill-opacity="0.8"/>
<circle cx="246.4" cy="472.6" r="0.42" fill="#6a6a6a" fill-opacity="0.8"/>
<circle cx="248.9" cy="462.3" r="0.42" fill="#6a6a6a" fill-opacity="0.8"/>
<circle cx="246.4" cy="464.5" r="0.42" fill="#6a6a6a" fill-opacity="0.8"/>
<circle cx="237.1" cy="465.4" r="0.42" fill="#6a6a6a" fill-opacity="0.8"/>
<circle cx="245.5" cy="478.7" r="0.42" fill="#6a6a6a" fill-opacity="0.8"/>
<circle cx="251.6" cy="473.3" r="0.42" fill="#6a6a6a" fill-opacity="0.8"/>
<circle cx="263.1" cy="481.1" r="0.42" fill="#6a6a6a" fill-opacity="0.8"/>
<circle cx="239.6" cy="475.2" r="0.42" fill="#6a6a6a" fill-opacity="0.8"/>
<circle cx="263.2" cy="473.9" r="0.42" fill="#6a6a6a" fill-opacity="0.8"/>
<circle cx="267.5" cy="473.3" r="0.42" fill="#6a6a6a" fill-opacity="0.8"/>
<circle cx="270.2" cy="472.1" r="0.42" fill="#6a6a6a" fill-opacity="0.8"/>
<circle cx="256.4" cy="468.8" r="0.42" fill="#6a6a6a" fill-opacity="0.8"/>
<circle cx="264.0" cy="465.8" r="0.42" fill="#6a6a6a" fill-opacity="0.8"/>
<circle cx="278.4" cy="475.3" r="0.42" fill="#6a6a6a" fill-opacity="0.8"/>
<circle cx="254.1" cy="473.4" r="0.42" fill="#6a6a6a" fill-opacity="0.8"/>
<circle cx="246.4" cy="479.9" r="0.42" fill="#6a6a6a" fill-opacity="0.8"/>
<circle cx="236.8" cy="475.6" r="0.42" fill="#6a6a6a" fill-opacity="0.8"/>
<circle cx="263.3" cy="470.9" r="0.42" fill="#6a6a6a" fill-opacity="0.8"/>
<circle cx="267.6" cy="472.4" r="0.42" fill="#6a6a6a" fill-opacity="0.8"/>
<circle cx="266.7" cy="468.5" r="0.42" fill="#6a6a6a" fill-opacity="0.8"/>
<circle cx="254.5" cy="466.4" r="0.42" fill="#6a6a6a" fill-opacity="0.8"/>
<circle cx="250.2" cy="469.9" r="0.42" fill="#6a6a6a" fill-opacity="0.8"/>
<circle cx="261.8" cy="472.8" r="0.42" fill="#6a6a6a" fill-opacity="0.8"/>
<circle cx="260.3" cy="468.6" r="0.42" fill="#6a6a6a" fill-opacity="0.8"/>
<circle cx="282.2" cy="469.1" r="0.42" fill="#6a6a6a" fill-opacity="0.8"/>
<circle cx="259.9" cy="484.0" r="0.42" fill="#6a6a6a" fill-opacity="0.8"/>
<circle cx="255.3" cy="474.9" r="0.42" fill="#6a6a6a" fill-opacity="0.8"/>
<circle cx="256.1" cy="477.0" r="0.42" fill="#6a6a6a" fill-opacity="0.8"/>
<circle cx="245.4" cy="460.0" r="0.42" fill="#6a6a6a" fill-opacity="0.8"/>
<circle cx="247.1" cy="463.7" r="0.42" fill="#6a6a6a" fill-opacity="0.8"/>
<circle cx="255.1" cy="474.6" r="0.42" fill="#6a6a6a" fill-opacity="0.8"/>
<circle cx="242.5" cy="470.2" r="0.42" fill="#6a6a6a" fill-opacity="0.8"/>
<circle cx="263.8" cy="470.1" r="0.42" fill="#6a6a6a" fill-opacity="0.8"/>
<circle cx="265.6" cy="461.3" r="0.42" fill="#6a6a6a" fill-opacity="0.8"/>
<circle cx="251.4" cy="467.2" r="0.42" fill="#6a6a6a" fill-opacity="0.8"/>
<circle cx="256.9" cy="464.1" r="0.42" fill="#6a6a6a" fill-opacity="0.8"/>
<circle cx="268.5" cy="466.6" r="0.42" fill="#6a6a6a" fill-opacity="0.8"/>
<circle cx="258.2" cy="468.7" r="0.42" fill="#6a6a6a" fill-opacity="0.8"/>
<circle cx="266.5" cy="470.5" r="0.42" fill="#6a6a6a" fill-opacity="0.8"/>
<circle cx="260.2" cy="471.0" r="0.42" fill="#6a6a6a" fill-opacity="0.8"/>
<circle cx="245.2" cy="467.0" r="0.42" fill="#6a6a6a" fill-opacity="0.8"/>
<circle cx="242.7" cy="470.5" r="0.42" fill="#6a6a6a" fill-opacity="0.8"/>
<circle cx="257.4" cy="475.9" r="0.42" fill="#6a6a6a" fill-opacity="0.8"/>
<circle cx="261.2" cy="473.8" r="0.42" fill="#6a6a6a" fill-opacity="0.8"/>
<circle cx="238.5" cy="468.2" r="0.42" fill="#6a6a6a" fill-opacity="0.8"/>
<circle cx="272.1" cy="468.0" r="0.42" fill="#6a6a6a" fill-opacity="0.8"/>
<circle cx="261.3" cy="477.3" r="0.42" fill="#6a6a6a" fill-opacity="0.8"/>
<circle cx="254.8" cy="472.6" r="0.42" fill="#6a6a6a" fill-opacity="0.8"/>
<circle cx="282.6" cy="478.4" r="0.42" fill="#6a6a6a" fill-opacity="0.8"/>
<circle cx="272.0" cy="479.7" r="0.42" fill="#6a6a6a" fill-opacity="0.8"/>
<circle cx="245.9" cy="477.5" r="0.42" fill="#6a6a6a" fill-opacity="0.8"/>
<circle cx="282.9" cy="469.1" r="0.42" fill="#6a6a6a" fill-opacity="0.8"/>
<circle cx="244.5" cy="473.6" r="0.42" fill="#6a6a6a" fill-opacity="0.8"/>
<circle cx="253.5" cy="470.1" r="0.42" fill="#6a6a6a" fill-opacity="0.8"/>
<circle cx="276.1" cy="474.8" r="0.42" fill="#6a6a6a" fill-opacity="0.8"/>
<circle cx="246.6" cy="476.0" r="0.42" fill="#6a6a6a" fill-opacity="0.8"/>
<circle cx="249.2" cy="464.3" r="0.42" fill="#6a6a6a" fill-opacity="0.8"/>
<circle cx="238.3" cy="469.8" r="0.42" fill="#6a6a6a" fill-opacity="0.8"/>
<circle cx="245.3" cy="478.1" r="0.42" fill="#6a6a6a" fill-opacity="0.8"/>
<circle cx="269.5" cy="482.9" r="0.42" fill="#6a6a6a" fill-opacity="0.8"/>
<circle cx="262.2" cy="479.9" r="0.42" fill="#6a6a6a" fill-opacity="0.8"/>
<circle cx="267.4" cy="461.6" r="0.42" fill="#6a6a6a" fill-opacity="0.8"/>
<circle cx="263.4" cy="480.2" r="0.42" fill="#6a6a6a" fill-opacity="0.8"/>
<circle cx="264.6" cy="472.3" r="0.42" fill="#6a6a6a" fill-opacity="0.8"/>
<circle cx="284.7" cy="467.9" r="0.42" fill="#6a6a6a" fill-opacity="0.8"/>
<circle cx="255.6" cy="471.5" r="0.42" fill="#6a6a6a" fill-opacity="0.8"/>
<circle cx="284.5" cy="465.1" r="0.42" fill="#6a6a6a" fill-opacity="0.8"/>
<circle cx="254.0" cy="470.6" r="0.42" fill="#6a6a6a" fill-opacity="0.8"/>
<circle cx="245.1" cy="463.0" r="0.42" fill="#6a6a6a" fill-opacity="0.8"/>
<circle cx="267.5" cy="473.6" r="0.42" fill="#6a6a6a" fill-opacity="0.8"/>
<circle cx="236.6" cy="465.1" r="0.42" fill="#6a6a6a" fill-opacity="0.8"/>
<circle cx="238.1" cy="475.3" r="0.42" fill="#6a6a6a" fill-opacity="0.8"/>
<circle cx="257.5" cy="477.3" r="0.42" fill="#6a6a6a" fill-opacity="0.8"/>
<circle cx="261.4" cy="472.7" r="0.42" fill="#6a6a6a" fill-opacity="0.8"/>
<circle cx="247.5" cy="467.9" r="0.42" fill="#6a6a6a" fill-opacity="0.8"/>
<circle cx="268.2" cy="470.5" r="0.42" fill="#6a6a6a" fill-opacity="0.8"/>
<circle cx="253.7" cy="470.1" r="0.42" fill="#6a6a6a" fill-opacity="0.8"/>
<circle cx="241.7" cy="467.1" r="0.42" fill="#6a6a6a" fill-opacity="0.8"/>
<circle cx="264.8" cy="473.6" r="0.42" fill="#6a6a6a" fill-opacity="0.8"/>
<circle cx="265.1" cy="472.6" r="0.42" fill="#6a6a6a" fill-opacity="0.8"/>
<circle cx="259.5" cy="478.7" r="0.42" fill="#6a6a6a" fill-opacity="0.8"/>
<circle cx="243.0" cy="474.5" r="0.42" fill="#6a6a6a" fill-opacity="0.8"/>
<circle cx="243.7" cy="468.1" r="0.42" fill="#6a6a6a" fill-opacity="0.8"/>
<circle cx="241.1" cy="461.5" r="0.42" fill="#6a6a6a" fill-opacity="0.8"/>
<circle cx="249.3" cy="479.3" r="0.42" fill="#6a6a6a" fill-opacity="0.8"/>
<circle cx="263.8" cy="470.7" r="0.42" fill="#6a6a6a" fill-opacity="0.8"/>
<circle cx="253.5" cy="465.7" r="0.42" fill="#6a6a6a" fill-opacity="0.8"/>
<circle cx="282.0" cy="464.4" r="0.42" fill="#6a6a6a" fill-opacity="0.8"/>
<circle cx="248.6" cy="471.6" r="0.42" fill="#6a6a6a" fill-opacity="0.8"/>
<circle cx="262.3" cy="468.9" r="0.42" fill="#6a6a6a" fill-opacity="0.8"/>
<circle cx="256.2" cy="470.2" r="0.42" fill="#6a6a6a" fill-opacity="0.8"/>
<circle cx="263.2" cy="473.4" r="0.42" fill="#6a6a6a" fill-opacity="0.8"/>
<circle cx="246.2" cy="468.7" r="0.42" fill="#6a6a6a" fill-opacity="0.8"/>
<circle cx="266.0" cy="460.7" r="0.42" fill="#6a6a6a" fill-opacity="0.8"/>
<circle cx="251.5" cy="469.4" r="0.42" fill="#6a6a6a" fill-opacity="0.8"/>
<circle cx="279.6" cy="471.9" r="0.42" fill="#6a6a6a" fill-opacity="0.8"/>
<circle cx="271.2" cy="482.5" r="0.42" fill="#6a6a6a" fill-opacity="0.8"/>
<circle cx="247.8" cy="471.4" r="0.42" fill="#6a6a6a" fill-opacity="0.8"/>
<circle cx="238.4" cy="464.5" r="0.42" fill="#6a6a6a" fill-opacity="0.8"/>
<circle cx="270.2" cy="479.3" r="0.42" fill="#6a6a6a" fill-opacity="0.8"/>
<circle cx="277.5" cy="468.8" r="0.42" fill="#6a6a6a" fill-opacity="0.8"/>
<circle cx="257.6" cy="465.0" r="0.42" fill="#6a6a6a" fill-opacity="0.8"/>
<circle cx="274.7" cy="465.0" r="0.42" fill="#6a6a6a" fill-opacity="0.8"/>
<circle cx="272.6" cy="470.5" r="0.42" fill="#6a6a6a" fill-opacity="0.8"/>
<circle cx="248.1" cy="481.9" r="0.42" fill="#6a6a6a" fill-opacity="0.8"/>
<circle cx="280.5" cy="463.2" r="0.42" fill="#6a6a6a" fill-opacity="0.8"/>
<circle cx="264.2" cy="468.4" r="0.42" fill="#6a6a6a" fill-opacity="0.8"/>
<circle cx="266.7" cy="474.2" r="0.42" fill="#6a6a6a" fill-opacity="0.8"/>
<circle cx="240.3" cy="473.1" r="0.42" fill="#6a6a6a" fill-opacity="0.8"/>
<circle cx="237.8" cy="468.1" r="0.42" fill="#6a6a6a" fill-opacity="0.8"/>
<circle cx="241.7" cy="475.4" r="0.42" fill="#6a6a6a" fill-opacity="0.8"/>
<circle cx="243.4" cy="467.4" r="0.42" fill="#6a6a6a" fill-opacity="0.8"/>
<circle cx="237.9" cy="479.6" r="0.42" fill="#6a6a6a" fill-opacity="0.8"/>
<circle cx="267.2" cy="472.6" r="0.42" fill="#6a6a6a" fill-opacity="0.8"/>
<circle cx="270.3" cy="469.8" r="0.42" fill="#6a6a6a" fill-opacity="0.8"/>
<circle cx="265.1" cy="467.6" r="0.42" fill="#6a6a6a" fill-opacity="0.8"/>
<circle cx="254.1" cy="475.0" r="0.42" fill="#6a6a6a" fill-opacity="0.8"/>
<circle cx="246.5" cy="462.0" r="0.42" fill="#6a6a6a" fill-opacity="0.8"/>
<circle cx="241.9" cy="482.3" r="0.42" fill="#6a6a6a" fill-opacity="0.8"/>
<circle cx="275.9" cy="472.7" r="0.42" fill="#6a6a6a" fill-opacity="0.8"/>
<circle cx="241.2" cy="466.1" r="0.42" fill="#6a6a6a" fill-opacity="0.8"/>
<circle cx="237.5" cy="475.5" r="0.42" fill="#6a6a6a" fill-opacity="0.8"/>
<circle cx="249.0" cy="467.9" r="0.42" fill="#6a6a6a" fill-opacity="0.8"/>
<circle cx="254.3" cy="480.1" r="0.42" fill="#6a6a6a" fill-opacity="0.8"/>
<circle cx="252.1" cy="477.5" r="0.42" fill="#6a6a6a" fill-opacity="0.8"/>
<circle cx="277.8" cy="468.3" r="0.42" fill="#6a6a6a" fill-opacity="0.8"/>
<circle cx="238.0" cy="464.1" r="0.42" fill="#6a6a6a" fill-opacity="0.8"/>
<circle cx="270.7" cy="465.6" r="0.42" fill="#6a6a6a" fill-opacity="0.8"/>
<circle cx="273.5" cy="470.3" r="0.42" fill="#6a6a6a" fill-opacity="0.8"/>
<circle cx="236.7" cy="462.5" r="0.42" fill="#6a6a6a" fill-opacity="0.8"/>
<circle cx="260.5" cy="463.0" r="0.42" fill="#6a6a6a" fill-opacity="0.8"/>
<circle cx="249.1" cy="480.1" r="0.42" fill="#6a6a6a" fill-opacity="0.8"/>
<circle cx="282.3" cy="469.0" r="0.42" fill="#6a6a6a" fill-opacity="0.8"/>
<circle cx="260.7" cy="474.4" r="0.42" fill="#6a6a6a" fill-opacity="0.8"/>
<circle cx="241.8" cy="468.3" r="0.42" fill="#6a6a6a" fill-opacity="0.8"/>
<circle cx="274.7" cy="468.0" r="0.42" fill="#6a6a6a" fill-opacity="0.8"/>
<circle cx="255.6" cy="465.6" r="0.42" fill="#6a6a6a" fill-opacity="0.8"/>
<circle cx="246.5" cy="477.0" r="0.42" fill="#6a6a6a" fill-opacity="0.8"/>
<circle cx="249.3" cy="476.2" r="0.42" fill="#6a6a6a" fill-opacity="0.8"/>
<circle cx="254.9" cy="465.5" r="0.42" fill="#6a6a6a" fill-opacity="0.8"/>
<circle cx="279.4" cy="470.7" r="0.42" fill="#6a6a6a" fill-opacity="0.8"/>
<circle cx="273.1" cy="477.2" r="0.42" fill="#6a6a6a" fill-opacity="0.8"/>
<circle cx="267.8" cy="466.6" r="0.42" fill="#6a6a6a" fill-opacity="0.8"/>
<circle cx="244.0" cy="474.7" r="0.42" fill="#6a6a6a" fill-opacity="0.8"/>
<circle cx="257.8" cy="460.9" r="0.42" fill="#6a6a6a" fill-opacity="0.8"/>
<circle cx="245.8" cy="466.8" r="0.42" fill="#6a6a6a" fill-opacity="0.8"/>
<circle cx="244.1" cy="470.1" r="0.42" fill="#6a6a6a" fill-opacity="0.8"/>
<circle cx="261.8" cy="475.8" r="0.42" fill="#6a6a6a" fill-opacity="0.8"/>
<circle cx="244.3" cy="468.0" r="0.42" fill="#6a6a6a" fill-opacity="0.8"/>
<circle cx="283.8" cy="473.7" r="0.42" fill="#6a6a6a" fill-opacity="0.8"/>
<circle cx="241.4" cy="472.9" r="0.42" fill="#6a6a6a" fill-opacity="0.8"/>
<circle cx="255.1" cy="469.3" r="0.42" fill="#6a6a6a" fill-opacity="0.8"/>
<circle cx="246.0" cy="459.8" r="0.42" fill="#6a6a6a" fill-opacity="0.8"/>
<circle cx="267.4" cy="473.5" r="0.42" fill="#6a6a6a" fill-opacity="0.8"/>
<circle cx="255.3" cy="472.8" r="0.42" fill="#6a6a6a" fill-opacity="0.8"/>
<circle cx="238.1" cy="460.7" r="0.42" fill="#6a6a6a" fill-opacity="0.8"/>
<circle cx="270.1" cy="476.8" r="0.42" fill="#6a6a6a" fill-opacity="0.8"/>
<circle cx="260.8" cy="465.1" r="0.42" fill="#6a6a6a" fill-opacity="0.8"/>
<circle cx="243.4" cy="464.6" r="0.42" fill="#6a6a6a" fill-opacity="0.8"/>
<circle cx="265.8" cy="461.2" r="0.42" fill="#6a6a6a" fill-opacity="0.8"/>
<circle cx="264.3" cy="470.0" r="0.42" fill="#6a6a6a" fill-opacity="0.8"/>
<circle cx="247.6" cy="463.2" r="0.42" fill="#6a6a6a" fill-opacity="0.8"/>
<circle cx="271.5" cy="478.2" r="0.42" fill="#6a6a6a" fill-opacity="0.8"/>
<circle cx="270.5" cy="462.3" r="0.42" fill="#6a6a6a" fill-opacity="0.8"/>
<circle cx="251.7" cy="461.6" r="0.42" fill="#6a6a6a" fill-opacity="0.8"/>
<circle cx="267.0" cy="475.5" r="0.42" fill="#6a6a6a" fill-opacity="0.8"/>
<circle cx="274.4" cy="473.9" r="0.42" fill="#6a6a6a" fill-opacity="0.8"/>
<circle cx="267.0" cy="470.0" r="0.42" fill="#6a6a6a" fill-opacity="0.8"/>
<circle cx="258.6" cy="476.8" r="0.42" fill="#6a6a6a" fill-opacity="0.8"/>
<circle cx="266.6" cy="461.8" r="0.42" fill="#6a6a6a" fill-opacity="0.8"/>
<circle cx="268.2" cy="471.1" r="0.42" fill="#6a6a6a" fill-opacity="0.8"/>
<circle cx="260.3" cy="463.7" r="0.42" fill="#6a6a6a" fill-opacity="0.8"/>
<circle cx="274.4" cy="471.9" r="0.42" fill="#6a6a6a" fill-opacity="0.8"/>
<circle cx="261.7" cy="476.8" r="0.42" fill="#6a6a6a" fill-opacity="0.8"/>
<circle cx="262.7" cy="475.0" r="0.42" fill="#6a6a6a" fill-opacity="0.8"/>
<circle cx="271.3" cy="460.7" r="0.42" fill="#6a6a6a" fill-opacity="0.8"/>
<circle cx="276.7" cy="469.3" r="0.42" fill="#6a6a6a" fill-opacity="0.8"/>
<circle cx="256.4" cy="474.2" r="0.42" fill="#6a6a6a" fill-opacity="0.8"/>
<circle cx="269.7" cy="468.6" r="0.42" fill="#6a6a6a" fill-opacity="0.8"/>
<circle cx="255.5" cy="470.3" r="0.42" fill="#6a6a6a" fill-opacity="0.8"/>
<circle cx="239.2" cy="469.0" r="0.42" fill="#6a6a6a" fill-opacity="0.8"/>
<circle cx="237.1" cy="476.5" r="0.42" fill="#6a6a6a" fill-opacity="0.8"/>
<circle cx="256.8" cy="461.2" r="0.42" fill="#6a6a6a" fill-opacity="0.8"/>
<circle cx="253.6" cy="474.8" r="0.42" fill="#6a6a6a" fill-opacity="0.8"/>
<circle cx="249.4" cy="471.7" r="0.42" fill="#6a6a6a" fill-opacity="0.8"/>
<circle cx="282.1" cy="480.6" r="0.42" fill="#6a6a6a" fill-opacity="0.8"/>
<circle cx="247.1" cy="472.1" r="0.42" fill="#6a6a6a" fill-opacity="0.8"/>
<circle cx="246.8" cy="463.9" r="0.42" fill="#6a6a6a" fill-opacity="0.8"/>
<circle cx="242.8" cy="472.0" r="0.42" fill="#6a6a6a" fill-opacity="0.8"/>
<circle cx="259.3" cy="465.7" r="0.42" fill="#6a6a6a" fill-opacity="0.8"/>
<circle cx="267.5" cy="475.0" r="0.42" fill="#6a6a6a" fill-opacity="0.8"/>
<circle cx="250.8" cy="466.8" r="0.42" fill="#6a6a6a" fill-opacity="0.8"/>
<circle cx="257.2" cy="476.3" r="0.42" fill="#6a6a6a" fill-opacity="0.8"/>
<circle cx="245.5" cy="480.4" r="0.42" fill="#6a6a6a" fill-opacity="0.8"/>
<circle cx="250.1" cy="470.2" r="0.42" fill="#6a6a6a" fill-opacity="0.8"/>
<circle cx="248.4" cy="467.6" r="0.42" fill="#6a6a6a" fill-opacity="0.8"/>
<circle cx="257.3" cy="477.0" r="0.42" fill="#6a6a6a" fill-opacity="0.8"/>
<circle cx="267.4" cy="466.7" r="0.42" fill="#6a6a6a" fill-opacity="0.8"/>
<circle cx="281.5" cy="464.8" r="0.42" fill="#6a6a6a" fill-opacity="0.8"/>
<circle cx="239.3" cy="476.6" r="0.42" fill="#6a6a6a" fill-opacity="0.8"/>
<circle cx="282.7" cy="469.2" r="0.42" fill="#6a6a6a" fill-opacity="0.8"/>
<circle cx="248.6" cy="472.9" r="0.42" fill="#6a6a6a" fill-opacity="0.8"/>
<circle cx="247.8" cy="472.1" r="0.42" fill="#6a6a6a" fill-opacity="0.8"/>
<circle cx="274.2" cy="467.9" r="0.42" fill="#6a6a6a" fill-opacity="0.8"/>
<circle cx="279.7" cy="461.2" r="0.42" fill="#6a6a6a" fill-opacity="0.8"/>
<circle cx="279.9" cy="462.9" r="0.42" fill="#6a6a6a" fill-opacity="0.8"/>
<circle cx="277.2" cy="473.2" r="0.42" fill="#6a6a6a" fill-opacity="0.8"/>
<path d="M222.5,462 C228,461.5 232.5,466 232.5,471 C232.5,476 230.5,484 225,486 C219.5,487.5 216.5,480 216.8,473 C217,466 219,462.3 222.5,462 Z" fill="#ececec" stroke="#7a7a7a" stroke-width="0.7"/>
<ellipse cx="224.2" cy="474.5" rx="5.2" ry="9" fill="#d8d8d8" stroke="#8a8a8a" stroke-width="0.55" transform="rotate(-6 224.2 474.5)"/>
<ellipse cx="223.8" cy="475" rx="3.4" ry="6.2" fill="#c2c2c2" stroke="#888" stroke-width="0.5" transform="rotate(-6 223.8 475)"/>
<ellipse cx="223.6" cy="475.5" rx="1.8" ry="3.4" fill="#b0b0b0" stroke="#888" stroke-width="0.4"/>
<path d="M231.5,466 C234,467.5 236.5,470 237,473 C236.5,476 234,478 231.5,480" fill="none" stroke="#666" stroke-width="0.7"/>
<rect x="215.3" y="458.7" width="18.2" height="36.1" fill="none" stroke="#7d7aa8" stroke-width="0.9"/>
<rect x="235.5" y="458.7" width="50.4" height="36.2" fill="none" stroke="#d45070" stroke-width="1"/>
<text stroke="#2a2a2a" stroke-width="0.05" x="207.10" y="494.90" font-size="10.8" text-anchor="middle" fill="#2a2a2a" textLength="31.40" lengthAdjust="spacingAndGlyphs" transform="rotate(-90 207.10 494.90)">mCD45</text>
<text stroke="#2a2a2a" stroke-width="0.16" x="249.50" y="543.00" font-size="10.3" text-anchor="middle" fill="#2a2a2a" textLength="28.30" lengthAdjust="spacingAndGlyphs">ZsGreen</text>
<line x1="357.45" y1="436.10" x2="357.45" y2="524.60" stroke="#1a1a1a" stroke-width="1.2" />
<line x1="354.00" y1="524.00" x2="405.50" y2="524.00" stroke="#1a1a1a" stroke-width="1.4" />
<line x1="354.00" y1="524.00" x2="357.45" y2="524.00" stroke="#1a1a1a" stroke-width="1.1" />
<text stroke="#333" stroke-width="0.04" x="351.20" y="526.98" font-size="8.5" text-anchor="end" fill="#333" textLength="26.00" lengthAdjust="spacingAndGlyphs">0.0000</text>
<line x1="354.00" y1="506.92" x2="357.45" y2="506.92" stroke="#1a1a1a" stroke-width="1.1" />
<text stroke="#333" stroke-width="0.04" x="351.20" y="509.90" font-size="8.5" text-anchor="end" fill="#333" textLength="26.00" lengthAdjust="spacingAndGlyphs">0.0001</text>
<line x1="354.00" y1="489.84" x2="357.45" y2="489.84" stroke="#1a1a1a" stroke-width="1.1" />
<text stroke="#333" stroke-width="0.04" x="351.20" y="492.81" font-size="8.5" text-anchor="end" fill="#333" textLength="26.00" lengthAdjust="spacingAndGlyphs">0.0002</text>
<line x1="354.00" y1="472.76" x2="357.45" y2="472.76" stroke="#1a1a1a" stroke-width="1.1" />
<text stroke="#333" stroke-width="0.04" x="351.20" y="475.74" font-size="8.5" text-anchor="end" fill="#333" textLength="26.00" lengthAdjust="spacingAndGlyphs">0.0003</text>
<line x1="354.00" y1="455.68" x2="357.45" y2="455.68" stroke="#1a1a1a" stroke-width="1.1" />
<text stroke="#333" stroke-width="0.04" x="351.20" y="458.66" font-size="8.5" text-anchor="end" fill="#333" textLength="26.00" lengthAdjust="spacingAndGlyphs">0.0004</text>
<line x1="354.00" y1="438.60" x2="357.45" y2="438.60" stroke="#1a1a1a" stroke-width="1.1" />
<text stroke="#333" stroke-width="0.04" x="351.20" y="441.58" font-size="8.5" text-anchor="end" fill="#333" textLength="26.00" lengthAdjust="spacingAndGlyphs">0.0005</text>
<line x1="371.7" y1="445.43" x2="393.2" y2="494.96" stroke="#333" stroke-width="0.8" stroke-dasharray="1,1"/>
<line x1="371.7" y1="459.10" x2="393.2" y2="503.50" stroke="#333" stroke-width="0.8" stroke-dasharray="1,1"/>
<line x1="371.7" y1="481.30" x2="393.2" y2="508.63" stroke="#333" stroke-width="0.8" stroke-dasharray="1,1"/>
<line x1="371.7" y1="489.84" x2="393.2" y2="512.04" stroke="#333" stroke-width="0.8" stroke-dasharray="1,1"/>
<circle cx="371.70" cy="445.43" r="1.8" fill="#7474b4"/>
<circle cx="393.20" cy="494.96" r="1.8" fill="#c8102e"/>
<circle cx="371.70" cy="459.10" r="1.8" fill="#7474b4"/>
<circle cx="393.20" cy="503.50" r="1.8" fill="#c8102e"/>
<circle cx="371.70" cy="481.30" r="1.8" fill="#7474b4"/>
<circle cx="393.20" cy="508.63" r="1.8" fill="#c8102e"/>
<circle cx="371.70" cy="489.84" r="1.8" fill="#7474b4"/>
<circle cx="393.20" cy="512.04" r="1.8" fill="#c8102e"/>
<line x1="372.50" y1="438.60" x2="393.80" y2="438.60" stroke="#111" stroke-width="1.1" />
<text stroke="#111" stroke-width="0.16" x="383.00" y="438.90" font-size="9.5" text-anchor="middle" fill="#111">*</text>
<line x1="371.70" y1="524.00" x2="371.70" y2="527.00" stroke="#1a1a1a" stroke-width="1.1" />
<line x1="393.20" y1="524.00" x2="393.20" y2="527.00" stroke="#1a1a1a" stroke-width="1.1" />
<text stroke="#2a2a2a" stroke-width="0.05" x="306.90" y="479.30" font-size="10.2" text-anchor="middle" fill="#2a2a2a" textLength="84.60" lengthAdjust="spacingAndGlyphs" transform="rotate(-90 306.90 479.30)"><tspan font-style="italic">Tet2</tspan> relative abundance</text>
<text stroke="#2a2a2a" stroke-width="0.05" x="318.10" y="475.80" font-size="10" text-anchor="middle" fill="#2a2a2a" textLength="72.40" lengthAdjust="spacingAndGlyphs" transform="rotate(-90 318.10 475.80)">in gDNA (% to GAPDH)</text>
<text stroke="#2a2a2a" stroke-width="0.16" x="375.90" y="534.00" font-size="8.8" text-anchor="end" fill="#2a2a2a" textLength="38.10" lengthAdjust="spacingAndGlyphs" transform="rotate(-45 375.90 534.00)">ZsG- (WT)</text>
<text stroke="#2a2a2a" stroke-width="0.16" x="396.10" y="532.70" font-size="8.8" text-anchor="end" fill="#2a2a2a" transform="rotate(-45 396.10 532.70)">ZsG+ (<tspan font-style="italic">Tet2</tspan><tspan font-size="5.5" dy="-3">+/-</tspan><tspan dy="3">)</tspan></text>
<line x1="462.50" y1="436.60" x2="462.50" y2="524.90" stroke="#1a1a1a" stroke-width="1.2" />
<line x1="459.00" y1="524.30" x2="520.00" y2="524.30" stroke="#1a1a1a" stroke-width="1.3" />
<line x1="459.00" y1="524.30" x2="462.50" y2="524.30" stroke="#1a1a1a" stroke-width="1.1" />
<text stroke="#333" stroke-width="0.04" x="456.30" y="527.27" font-size="8.5" text-anchor="end" fill="#333" textLength="11.40" lengthAdjust="spacingAndGlyphs">0.0</text>
<line x1="459.00" y1="507.16" x2="462.50" y2="507.16" stroke="#1a1a1a" stroke-width="1.1" />
<text stroke="#333" stroke-width="0.04" x="456.30" y="510.13" font-size="8.5" text-anchor="end" fill="#333" textLength="11.40" lengthAdjust="spacingAndGlyphs">0.2</text>
<line x1="459.00" y1="490.02" x2="462.50" y2="490.02" stroke="#1a1a1a" stroke-width="1.1" />
<text stroke="#333" stroke-width="0.04" x="456.30" y="493.00" font-size="8.5" text-anchor="end" fill="#333" textLength="11.40" lengthAdjust="spacingAndGlyphs">0.4</text>
<line x1="459.00" y1="472.88" x2="462.50" y2="472.88" stroke="#1a1a1a" stroke-width="1.1" />
<text stroke="#333" stroke-width="0.04" x="456.30" y="475.85" font-size="8.5" text-anchor="end" fill="#333" textLength="11.40" lengthAdjust="spacingAndGlyphs">0.6</text>
<line x1="459.00" y1="455.74" x2="462.50" y2="455.74" stroke="#1a1a1a" stroke-width="1.1" />
<text stroke="#333" stroke-width="0.04" x="456.30" y="458.71" font-size="8.5" text-anchor="end" fill="#333" textLength="11.40" lengthAdjust="spacingAndGlyphs">0.8</text>
<line x1="459.00" y1="438.60" x2="462.50" y2="438.60" stroke="#1a1a1a" stroke-width="1.1" />
<text stroke="#333" stroke-width="0.04" x="456.30" y="441.57" font-size="8.5" text-anchor="end" fill="#333" textLength="11.40" lengthAdjust="spacingAndGlyphs">1.0</text>
<line x1="478.8" y1="447.17" x2="503.1" y2="472.88" stroke="#333" stroke-width="0.8" stroke-dasharray="1,1"/>
<line x1="478.8" y1="455.74" x2="503.1" y2="481.45" stroke="#333" stroke-width="0.8" stroke-dasharray="1,1"/>
<line x1="478.8" y1="461.74" x2="503.1" y2="483.16" stroke="#333" stroke-width="0.8" stroke-dasharray="1,1"/>
<line x1="478.8" y1="464.31" x2="503.1" y2="490.02" stroke="#333" stroke-width="0.8" stroke-dasharray="1,1"/>
<circle cx="478.80" cy="447.17" r="1.8" fill="#7474b4"/>
<circle cx="503.10" cy="472.88" r="1.8" fill="#c8102e"/>
<circle cx="478.80" cy="455.74" r="1.8" fill="#7474b4"/>
<circle cx="503.10" cy="481.45" r="1.8" fill="#c8102e"/>
<circle cx="478.80" cy="461.74" r="1.8" fill="#7474b4"/>
<circle cx="503.10" cy="483.16" r="1.8" fill="#c8102e"/>
<circle cx="478.80" cy="464.31" r="1.8" fill="#7474b4"/>
<circle cx="503.10" cy="490.02" r="1.8" fill="#c8102e"/>
<circle cx="503.10" cy="484.02" r="1.8" fill="#c8102e"/>
<line x1="480.20" y1="438.70" x2="502.70" y2="438.70" stroke="#000" stroke-width="1.1" />
<text stroke="#111" stroke-width="0.16" x="491.20" y="438.60" font-size="9.5" text-anchor="middle" fill="#111" letter-spacing="0.8">**</text>
<line x1="478.70" y1="524.30" x2="478.70" y2="527.00" stroke="#1a1a1a" stroke-width="1.1" />
<line x1="503.10" y1="524.30" x2="503.10" y2="527.00" stroke="#1a1a1a" stroke-width="1.1" />
<text stroke="#2a2a2a" stroke-width="0.05" x="426.90" y="479.70" font-size="10.2" text-anchor="middle" fill="#2a2a2a" textLength="83.70" lengthAdjust="spacingAndGlyphs" transform="rotate(-90 426.90 479.70)"><tspan font-style="italic">Tet2</tspan> relative abundance</text>
<text stroke="#2a2a2a" stroke-width="0.05" x="437.80" y="479.70" font-size="10" text-anchor="middle" fill="#2a2a2a" textLength="82.00" lengthAdjust="spacingAndGlyphs" transform="rotate(-90 437.80 479.70)">in mRNA (% to GAPDH)</text>
<text stroke="#2a2a2a" stroke-width="0.16" x="482.90" y="534.00" font-size="8.8" text-anchor="end" fill="#2a2a2a" textLength="38.10" lengthAdjust="spacingAndGlyphs" transform="rotate(-45 482.90 534.00)">ZsG- (WT)</text>
<text stroke="#2a2a2a" stroke-width="0.16" x="506.00" y="532.70" font-size="8.8" text-anchor="end" fill="#2a2a2a" transform="rotate(-45 506.00 532.70)">ZsG+ (<tspan font-style="italic">Tet2</tspan><tspan font-size="5.5" dy="-3">+/-</tspan><tspan dy="3">)</tspan></text>
</svg></body></html>
